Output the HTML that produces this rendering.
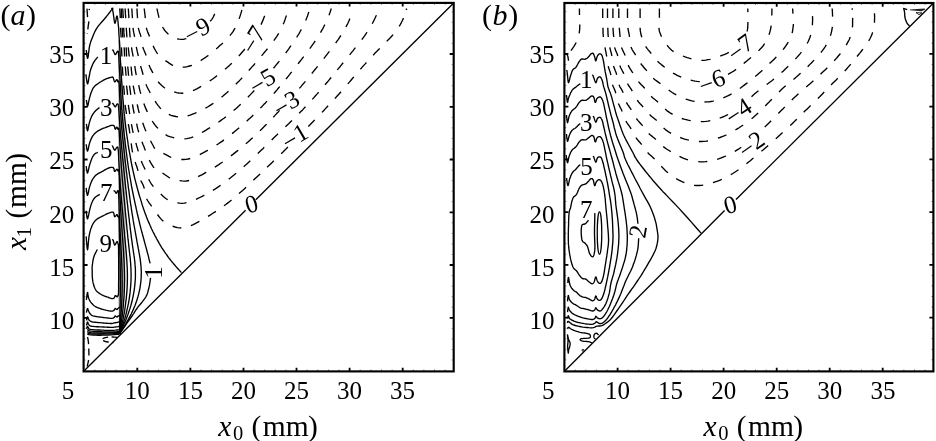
<!DOCTYPE html>
<html><head><meta charset="utf-8"><title>contours</title>
<style>html,body{margin:0;padding:0;background:#fff}body{width:936px;height:441px;overflow:hidden;position:relative}</style></head>
<body>
<svg width="936" height="441" viewBox="0 0 936 441" style="position:absolute;left:0;top:0">
<rect width="936" height="441" fill="#fff"/>
<path d="M137.3 371.4v-3.7M137.3 2.9v3.7M190.4 371.4v-3.7M190.4 2.9v3.7M243.5 371.4v-3.7M243.5 2.9v3.7M296.5 371.4v-3.7M296.5 2.9v3.7M349.6 371.4v-3.7M349.6 2.9v3.7M402.7 371.4v-3.7M402.7 2.9v3.7M83.6 317.8h4.0M453.7 317.8h-4.0M83.6 265.0h4.0M453.7 265.0h-4.0M83.6 212.3h4.0M453.7 212.3h-4.0M83.6 159.5h4.0M453.7 159.5h-4.0M83.6 106.8h4.0M453.7 106.8h-4.0M83.6 54.0h4.0M453.7 54.0h-4.0" stroke="#000" stroke-width="1.8" fill="none"/>
<path d="M94.8 371.4v-2.0M94.8 2.9v2.0M105.5 371.4v-2.0M105.5 2.9v2.0M116.1 371.4v-2.0M116.1 2.9v2.0M126.7 371.4v-2.0M126.7 2.9v2.0M147.9 371.4v-2.0M147.9 2.9v2.0M158.5 371.4v-2.0M158.5 2.9v2.0M169.1 371.4v-2.0M169.1 2.9v2.0M179.8 371.4v-2.0M179.8 2.9v2.0M201.0 371.4v-2.0M201.0 2.9v2.0M211.6 371.4v-2.0M211.6 2.9v2.0M222.2 371.4v-2.0M222.2 2.9v2.0M232.8 371.4v-2.0M232.8 2.9v2.0M254.1 371.4v-2.0M254.1 2.9v2.0M264.7 371.4v-2.0M264.7 2.9v2.0M275.3 371.4v-2.0M275.3 2.9v2.0M285.9 371.4v-2.0M285.9 2.9v2.0M307.2 371.4v-2.0M307.2 2.9v2.0M317.8 371.4v-2.0M317.8 2.9v2.0M328.4 371.4v-2.0M328.4 2.9v2.0M339.0 371.4v-2.0M339.0 2.9v2.0M360.2 371.4v-2.0M360.2 2.9v2.0M370.9 371.4v-2.0M370.9 2.9v2.0M381.5 371.4v-2.0M381.5 2.9v2.0M392.1 371.4v-2.0M392.1 2.9v2.0M413.3 371.4v-2.0M413.3 2.9v2.0M423.9 371.4v-2.0M423.9 2.9v2.0M434.5 371.4v-2.0M434.5 2.9v2.0M445.2 371.4v-2.0M445.2 2.9v2.0M83.6 360.0h2.0M453.7 360.0h-2.0M83.6 349.5h2.0M453.7 349.5h-2.0M83.6 338.9h2.0M453.7 338.9h-2.0M83.6 328.4h2.0M453.7 328.4h-2.0M83.6 307.2h2.0M453.7 307.2h-2.0M83.6 296.7h2.0M453.7 296.7h-2.0M83.6 286.1h2.0M453.7 286.1h-2.0M83.6 275.6h2.0M453.7 275.6h-2.0M83.6 254.5h2.0M453.7 254.5h-2.0M83.6 243.9h2.0M453.7 243.9h-2.0M83.6 233.4h2.0M453.7 233.4h-2.0M83.6 222.8h2.0M453.7 222.8h-2.0M83.6 201.7h2.0M453.7 201.7h-2.0M83.6 191.2h2.0M453.7 191.2h-2.0M83.6 180.6h2.0M453.7 180.6h-2.0M83.6 170.1h2.0M453.7 170.1h-2.0M83.6 149.0h2.0M453.7 149.0h-2.0M83.6 138.4h2.0M453.7 138.4h-2.0M83.6 127.9h2.0M453.7 127.9h-2.0M83.6 117.3h2.0M453.7 117.3h-2.0M83.6 96.2h2.0M453.7 96.2h-2.0M83.6 85.7h2.0M453.7 85.7h-2.0M83.6 75.1h2.0M453.7 75.1h-2.0M83.6 64.6h2.0M453.7 64.6h-2.0M83.6 43.4h2.0M453.7 43.4h-2.0M83.6 32.9h2.0M453.7 32.9h-2.0M83.6 22.3h2.0M453.7 22.3h-2.0M83.6 11.8h2.0M453.7 11.8h-2.0" stroke="#777" stroke-width="0.8" fill="none"/>
<rect x="83.6" y="2.9" width="370.1" height="368.5" fill="none" stroke="#000" stroke-width="2.15"/>
<path d="M617.6 371.4v-3.7M617.6 3.0v3.7M670.6 371.4v-3.7M670.6 3.0v3.7M723.6 371.4v-3.7M723.6 3.0v3.7M776.7 371.4v-3.7M776.7 3.0v3.7M829.7 371.4v-3.7M829.7 3.0v3.7M882.7 371.4v-3.7M882.7 3.0v3.7M564.4 317.6h4.0M933.4 317.6h-4.0M564.4 264.8h4.0M933.4 264.8h-4.0M564.4 212.1h4.0M933.4 212.1h-4.0M564.4 159.3h4.0M933.4 159.3h-4.0M564.4 106.6h4.0M933.4 106.6h-4.0M564.4 53.8h4.0M933.4 53.8h-4.0" stroke="#000" stroke-width="1.8" fill="none"/>
<path d="M575.2 371.4v-2.0M575.2 3.0v2.0M585.8 371.4v-2.0M585.8 3.0v2.0M596.4 371.4v-2.0M596.4 3.0v2.0M607.0 371.4v-2.0M607.0 3.0v2.0M628.2 371.4v-2.0M628.2 3.0v2.0M638.8 371.4v-2.0M638.8 3.0v2.0M649.4 371.4v-2.0M649.4 3.0v2.0M660.0 371.4v-2.0M660.0 3.0v2.0M681.2 371.4v-2.0M681.2 3.0v2.0M691.8 371.4v-2.0M691.8 3.0v2.0M702.4 371.4v-2.0M702.4 3.0v2.0M713.0 371.4v-2.0M713.0 3.0v2.0M734.2 371.4v-2.0M734.2 3.0v2.0M744.8 371.4v-2.0M744.8 3.0v2.0M755.5 371.4v-2.0M755.5 3.0v2.0M766.1 371.4v-2.0M766.1 3.0v2.0M787.3 371.4v-2.0M787.3 3.0v2.0M797.9 371.4v-2.0M797.9 3.0v2.0M808.5 371.4v-2.0M808.5 3.0v2.0M819.1 371.4v-2.0M819.1 3.0v2.0M840.3 371.4v-2.0M840.3 3.0v2.0M850.9 371.4v-2.0M850.9 3.0v2.0M861.5 371.4v-2.0M861.5 3.0v2.0M872.1 371.4v-2.0M872.1 3.0v2.0M893.3 371.4v-2.0M893.3 3.0v2.0M903.9 371.4v-2.0M903.9 3.0v2.0M914.5 371.4v-2.0M914.5 3.0v2.0M925.1 371.4v-2.0M925.1 3.0v2.0M564.4 359.8h2.0M933.4 359.8h-2.0M564.4 349.3h2.0M933.4 349.3h-2.0M564.4 338.7h2.0M933.4 338.7h-2.0M564.4 328.2h2.0M933.4 328.2h-2.0M564.4 307.0h2.0M933.4 307.0h-2.0M564.4 296.5h2.0M933.4 296.5h-2.0M564.4 285.9h2.0M933.4 285.9h-2.0M564.4 275.4h2.0M933.4 275.4h-2.0M564.4 254.3h2.0M933.4 254.3h-2.0M564.4 243.7h2.0M933.4 243.7h-2.0M564.4 233.2h2.0M933.4 233.2h-2.0M564.4 222.6h2.0M933.4 222.6h-2.0M564.4 201.5h2.0M933.4 201.5h-2.0M564.4 191.0h2.0M933.4 191.0h-2.0M564.4 180.4h2.0M933.4 180.4h-2.0M564.4 169.9h2.0M933.4 169.9h-2.0M564.4 148.8h2.0M933.4 148.8h-2.0M564.4 138.2h2.0M933.4 138.2h-2.0M564.4 127.7h2.0M933.4 127.7h-2.0M564.4 117.1h2.0M933.4 117.1h-2.0M564.4 96.0h2.0M933.4 96.0h-2.0M564.4 85.5h2.0M933.4 85.5h-2.0M564.4 74.9h2.0M933.4 74.9h-2.0M564.4 64.4h2.0M933.4 64.4h-2.0M564.4 43.2h2.0M933.4 43.2h-2.0M564.4 32.7h2.0M933.4 32.7h-2.0M564.4 22.1h2.0M933.4 22.1h-2.0M564.4 11.6h2.0M933.4 11.6h-2.0" stroke="#777" stroke-width="0.8" fill="none"/>
<rect x="564.4" y="3.0" width="369.0" height="368.4" fill="none" stroke="#000" stroke-width="2.15"/>
<path d="M86.2 50.0L86.4 51.1L86.6 52.9L86.8 54.9L87.1 56.8L87.4 58.0L87.7 58.3L88.0 57.4L88.3 55.6L88.5 53.3L88.9 50.7L89.2 48.1L89.6 46.0L90.0 44.2L90.5 42.6L91.0 41.0L91.6 39.4L92.2 37.9L92.8 36.4L93.4 34.9L94.0 33.5L94.7 32.0L95.4 30.6L96.2 29.1L97.2 27.6L98.4 25.9L99.9 24.1L101.5 22.3L103.1 20.5L104.6 18.8L105.9 17.2L107.1 15.7L108.2 14.3L109.2 13.0L110.1 11.8L110.9 10.7L111.5 9.9L111.9 9.3L112.1 8.8L112.2 8.5L112.2 8.4L112.2 8.4L112.3 8.6L112.4 8.9L112.6 9.4L112.7 10.0L112.8 10.8L113.0 11.8L113.2 12.9L113.4 14.5L113.7 16.6L114.0 18.8L114.3 20.9L114.6 22.5L114.9 23.3L115.2 22.9L115.6 21.5L116.0 19.7L116.3 17.8L116.7 16.4L117.0 16.0L117.3 16.6L117.5 17.9L117.8 19.7L118.0 21.8L118.2 23.9L118.4 25.9L118.6 27.7L118.7 29.4L118.8 31.1L118.9 33.1L119.0 35.3L119.2 38.0L119.4 41.2L119.6 44.9L119.8 48.8L120.0 52.9L120.2 57.0L120.4 61.0L120.7 64.9L120.9 68.8L121.1 72.6L121.4 76.5L121.6 80.3L121.9 84.1L122.1 87.7L122.4 91.4L122.7 95.0L122.9 98.5L123.2 101.9L123.5 105.2L123.8 108.3L124.0 111.3L124.3 114.2L124.6 117.0L124.9 119.7L125.2 122.3L125.5 124.9L125.8 127.3L126.1 129.7L126.4 132.0L126.7 134.3L127.1 136.8L127.4 139.2L127.8 141.7L128.1 144.2L128.5 146.7L128.9 149.3L129.4 151.9L129.9 154.7L130.4 157.4L130.9 160.3L131.4 163.1L132.0 166.0L132.6 168.8L133.2 171.6L133.9 174.5L134.5 177.3L135.2 180.1L135.9 182.8L136.6 185.5L137.3 188.1L138.0 190.7L138.7 193.2L139.4 195.7L140.2 198.1L140.9 200.4L141.6 202.6L142.2 204.8L142.9 206.9L143.6 209.0L144.3 211.0L145.0 212.9L145.7 214.8L146.4 216.7L147.1 218.4L147.8 220.2L148.5 221.9L149.3 223.6L150.0 225.3L150.8 227.0L151.5 228.7L152.3 230.3L153.1 232.0L154.0 233.6L154.8 235.3L155.7 236.9L156.5 238.5L157.4 240.1L158.3 241.7L159.2 243.3L160.1 244.8L161.0 246.3L161.9 247.8L162.9 249.3L163.8 250.7L164.7 252.1L165.6 253.4L166.6 254.7L167.5 256.0L168.4 257.3L169.3 258.5L170.3 259.7L171.2 260.9L172.1 262.0L173.1 263.1L174.0 264.2L174.9 265.3L175.8 266.4L176.8 267.5L177.9 268.7L179.0 269.9L180.0 271.0L180.8 271.9L181.4 272.6" fill="none" stroke="#000" stroke-width="1.35" stroke-linejoin="round" stroke-linecap="butt"/>
<path d="M86.4 100.0L86.5 100.8L86.7 102.1L86.9 103.5L87.1 104.9L87.3 105.9L87.5 106.3L87.7 106.0L88.0 105.1L88.2 104.0L88.5 102.6L88.8 101.2L89.1 99.9L89.4 98.7L89.7 97.4L90.1 96.1L90.4 94.8L90.8 93.5L91.2 92.4L91.6 91.4L92.0 90.4L92.4 89.6L92.8 88.7L93.3 87.9L93.9 87.1L94.6 86.3L95.4 85.6L96.3 84.8L97.3 84.2L98.2 83.5L99.2 82.8L100.2 82.1L101.3 81.5L102.4 80.8L103.5 80.2L104.6 79.6L105.6 79.1L106.6 78.7L107.6 78.3L108.6 78.0L109.5 77.7L110.3 77.5L111.0 77.3L111.5 77.2L112.0 77.1L112.3 77.0L112.6 77.1L112.8 77.2L113.1 77.5L113.4 78.1L113.6 78.9L113.9 79.8L114.1 80.7L114.4 81.4L114.7 81.8L115.0 81.8L115.4 81.4L115.8 80.8L116.2 80.2L116.6 79.8L116.9 79.6L117.1 79.7L117.3 80.1L117.5 80.5L117.6 81.0L117.7 81.5L117.9 81.8L118.1 81.8L118.3 81.5L118.4 81.1L118.6 81.0L118.8 81.5L119.0 82.8L119.2 85.3L119.4 88.6L119.5 92.6L119.7 96.8L119.9 100.9L120.1 104.5L120.3 107.7L120.5 110.8L120.7 113.8L120.9 116.7L121.1 119.5L121.3 122.2L121.5 124.8L121.7 127.2L121.9 129.6L122.2 132.0L122.4 134.3L122.6 136.8L122.9 139.2L123.1 141.7L123.4 144.2L123.7 146.7L123.9 149.3L124.2 151.9L124.5 154.7L124.8 157.5L125.1 160.3L125.5 163.2L125.8 166.0L126.1 168.8L126.4 171.6L126.8 174.4L127.1 177.2L127.4 179.9L127.8 182.6L128.1 185.2L128.4 187.8L128.8 190.2L129.1 192.6L129.4 194.9L129.7 197.2L130.0 199.5L130.3 201.7L130.6 203.9L131.0 206.0L131.3 208.2L131.6 210.3L131.9 212.5L132.3 214.7L132.7 217.0L133.0 219.2L133.4 221.5L133.8 223.8L134.2 226.0L134.6 228.2L135.0 230.5L135.4 232.7L135.8 234.9L136.2 237.1L136.6 239.2L136.9 241.2L137.3 243.1L137.6 245.0L138.0 246.9L138.3 248.7L138.7 250.5L139.0 252.3L139.3 254.0L139.6 255.7L139.9 257.4L140.2 259.1L140.4 260.9L140.6 262.6L140.8 264.4L141.0 266.2L141.1 268.0L141.2 269.8L141.3 271.7L141.3 273.6L141.2 275.5L141.2 277.5L141.0 279.5L140.9 281.5L140.6 283.6L140.3 285.7L140.0 287.8L139.6 290.0L139.1 292.2L138.6 294.4L138.0 296.5L137.3 298.7L136.6 301.0L135.8 303.2L135.0 305.4L134.1 307.6L133.2 309.7L132.2 311.9L131.2 314.0L130.1 316.1L129.0 318.1L127.9 320.2L126.7 322.2L125.5 324.3L124.1 326.5L122.7 328.8L121.4 330.8L120.3 332.5L119.5 333.8" fill="none" stroke="#000" stroke-width="1.35" stroke-linejoin="round" stroke-linecap="butt"/>
<path d="M86.2 144.2L86.3 145.1L86.5 146.5L86.7 148.1L87.0 149.6L87.2 150.7L87.5 151.1L87.8 150.6L88.1 149.5L88.5 147.9L88.8 146.2L89.2 144.5L89.6 143.1L90.0 141.9L90.4 140.8L90.8 139.7L91.3 138.6L91.8 137.6L92.3 136.7L92.8 135.8L93.4 135.1L94.0 134.3L94.6 133.7L95.3 133.0L96.0 132.4L96.8 131.8L97.6 131.2L98.5 130.7L99.5 130.2L100.4 129.7L101.4 129.2L102.4 128.7L103.5 128.2L104.7 127.8L105.8 127.3L106.8 127.0L107.8 126.6L108.7 126.3L109.5 126.0L110.2 125.7L110.9 125.5L111.5 125.4L112.1 125.3L112.6 125.3L113.0 125.3L113.3 125.4L113.7 125.5L113.9 125.7L114.2 126.0L114.4 126.5L114.6 127.1L114.8 127.8L114.9 128.4L115.1 128.9L115.3 129.2L115.5 129.1L115.8 128.7L116.1 128.2L116.4 127.7L116.7 127.3L116.9 127.1L117.1 127.2L117.3 127.5L117.4 128.0L117.6 128.5L117.7 128.9L117.9 129.2L118.1 129.2L118.3 128.8L118.4 128.4L118.6 128.2L118.8 128.6L119.0 129.8L119.2 132.0L119.4 135.1L119.6 138.6L119.8 142.5L120.0 146.3L120.2 149.9L120.4 153.3L120.6 156.6L120.9 160.0L121.1 163.3L121.3 166.7L121.6 170.0L121.9 173.3L122.1 176.6L122.4 180.0L122.7 183.2L123.0 186.5L123.3 189.8L123.6 193.0L123.9 196.1L124.2 199.3L124.5 202.4L124.8 205.5L125.1 208.5L125.3 211.4L125.6 214.3L125.9 217.2L126.2 220.0L126.4 222.6L126.7 225.2L126.9 227.8L127.1 230.2L127.4 232.5L127.6 234.8L127.8 237.0L128.0 239.2L128.3 241.2L128.5 243.2L128.7 245.1L128.9 246.9L129.1 248.7L129.3 250.5L129.5 252.3L129.7 254.0L129.9 255.7L130.1 257.4L130.3 259.1L130.4 260.9L130.6 262.6L130.7 264.4L130.8 266.2L130.9 268.0L131.0 269.8L131.0 271.7L131.1 273.6L131.1 275.5L131.1 277.5L131.0 279.5L131.0 281.5L130.8 283.6L130.7 285.7L130.5 287.9L130.3 290.1L130.1 292.4L129.8 294.6L129.5 296.9L129.2 299.1L128.8 301.4L128.4 303.7L127.9 305.9L127.4 308.2L126.9 310.4L126.4 312.5L125.9 314.6L125.3 316.7L124.7 318.8L124.0 320.8L123.4 322.7L122.7 324.8L122.0 326.9L121.2 329.0L120.5 331.0L119.9 332.6L119.5 333.8" fill="none" stroke="#000" stroke-width="1.35" stroke-linejoin="round" stroke-linecap="butt"/>
<path d="M86.2 187.9L86.3 188.9L86.5 190.4L86.7 192.2L87.0 193.8L87.2 195.0L87.5 195.4L87.8 194.9L88.1 193.7L88.5 192.1L88.8 190.2L89.2 188.4L89.6 186.9L90.0 185.6L90.4 184.4L90.8 183.2L91.3 182.0L91.8 180.9L92.3 179.9L92.8 179.0L93.4 178.1L94.0 177.3L94.6 176.5L95.3 175.8L96.0 175.1L96.8 174.5L97.7 173.9L98.6 173.4L99.5 172.9L100.5 172.4L101.4 171.9L102.4 171.3L103.4 170.8L104.4 170.2L105.4 169.6L106.3 169.1L107.2 168.7L108.0 168.3L108.8 168.0L109.6 167.7L110.3 167.5L110.9 167.4L111.5 167.3L112.0 167.3L112.4 167.3L112.8 167.5L113.1 167.6L113.4 167.9L113.7 168.2L113.9 168.7L114.1 169.3L114.2 170.0L114.3 170.6L114.5 171.2L114.7 171.4L115.0 171.3L115.4 170.9L115.8 170.4L116.2 169.9L116.6 169.4L116.9 169.2L117.1 169.3L117.3 169.5L117.5 169.8L117.6 170.2L117.7 170.5L117.9 170.8L118.1 170.7L118.3 170.4L118.5 170.0L118.7 169.9L118.8 170.2L119.0 171.4L119.1 173.5L119.3 176.4L119.4 179.8L119.5 183.4L119.6 187.1L119.7 190.5L119.9 193.8L120.0 197.0L120.2 200.3L120.4 203.5L120.5 206.8L120.7 210.1L120.9 213.4L121.1 216.7L121.3 220.0L121.6 223.2L121.8 226.5L122.0 229.7L122.2 232.8L122.4 236.0L122.7 239.1L122.9 242.2L123.1 245.2L123.3 248.1L123.5 251.0L123.6 253.9L123.8 256.6L124.0 259.4L124.1 262.1L124.2 264.8L124.3 267.5L124.4 270.1L124.5 272.8L124.5 275.4L124.6 278.0L124.6 280.6L124.5 283.2L124.5 285.8L124.4 288.3L124.3 290.9L124.2 293.4L124.1 295.9L123.9 298.4L123.7 300.9L123.5 303.3L123.3 305.6L123.1 308.0L122.9 310.2L122.6 312.4L122.3 314.6L122.1 316.7L121.8 318.7L121.5 320.8L121.2 322.7L120.9 324.8L120.6 326.9L120.3 329.1L120.0 331.0L119.7 332.6L119.5 333.8" fill="none" stroke="#000" stroke-width="1.35" stroke-linejoin="round" stroke-linecap="butt"/>
<path d="M86.2 236.4L86.3 238.2L86.5 240.9L86.8 244.0L87.0 246.9L87.3 249.0L87.5 249.8L87.7 249.0L88.0 247.0L88.2 244.3L88.5 241.2L88.8 238.3L89.1 235.9L89.5 234.0L89.9 232.3L90.3 230.6L90.7 229.1L91.3 227.7L91.8 226.3L92.4 225.0L93.0 223.8L93.7 222.7L94.5 221.7L95.2 220.7L96.0 219.9L96.8 219.2L97.7 218.6L98.6 218.1L99.5 217.6L100.4 217.2L101.4 216.7L102.4 216.1L103.5 215.6L104.7 215.0L105.8 214.4L106.8 213.9L107.8 213.5L108.7 213.1L109.5 212.8L110.2 212.5L110.9 212.3L111.6 212.2L112.1 212.1L112.5 212.1L112.9 212.1L113.1 212.2L113.3 212.4L113.5 212.7L113.7 213.0L113.9 213.5L114.0 214.2L114.2 215.0L114.3 215.8L114.5 216.4L114.7 216.7L115.0 216.6L115.4 216.3L115.8 215.8L116.2 215.2L116.6 214.8L116.9 214.6L117.1 214.7L117.3 215.0L117.5 215.5L117.6 215.9L117.7 216.4L117.9 216.7L118.1 216.7L118.3 216.5L118.5 216.3L118.7 216.2L118.9 216.6L119.0 217.5L119.1 219.2L119.2 221.4L119.2 224.0L119.3 226.9L119.3 229.8L119.4 232.5L119.4 235.1L119.5 237.8L119.6 240.5L119.7 243.2L119.7 245.9L119.8 248.6L119.9 251.3L119.9 254.0L120.0 256.7L120.1 259.4L120.1 262.1L120.2 264.8L120.2 267.5L120.3 270.1L120.3 272.7L120.3 275.4L120.3 278.0L120.4 280.6L120.4 283.2L120.4 285.8L120.3 288.3L120.3 290.9L120.3 293.4L120.3 295.9L120.2 298.4L120.2 300.9L120.2 303.3L120.1 305.6L120.1 308.0L120.0 310.2L120.0 312.4L119.9 314.6L119.9 316.7L119.8 318.7L119.8 320.8L119.7 322.7L119.7 324.8L119.7 326.9L119.6 329.1L119.6 331.0L119.5 332.6L119.5 333.8" fill="none" stroke="#000" stroke-width="1.35" stroke-linejoin="round" stroke-linecap="butt"/>
<path d="M85.9 74.3L86.1 75.5L86.3 77.4L86.6 79.5L86.9 81.6L87.2 83.1L87.5 83.9L87.8 83.7L88.0 82.8L88.3 81.5L88.6 80.0L88.8 78.4L89.1 77.0L89.3 75.8L89.6 74.5L89.8 73.3L90.0 72.0L90.3 70.8L90.7 69.5L91.1 68.2L91.6 66.9L92.2 65.6L92.7 64.3L93.3 63.1L93.9 62.0L94.6 61.0L95.3 59.9L96.1 59.0L96.8 58.1L97.4 57.4L97.8 56.9" fill="none" stroke="#000" stroke-width="1.35" stroke-linejoin="round" stroke-linecap="butt"/>
<path d="M112.2 50.4L112.3 50.3L112.4 50.2L112.5 50.1L112.7 50.0L112.9 50.1L113.1 50.3L113.4 50.8L113.7 51.7L114.1 52.6L114.5 53.6L114.9 54.3L115.3 54.6L115.7 54.4L116.0 53.9L116.4 53.2L116.8 52.4L117.1 51.7L117.4 51.4L117.6 51.2L117.9 51.1L118.0 51.1L118.2 51.4L118.3 52.0L118.5 53.0L118.6 54.5L118.8 56.5L118.9 58.8L119.0 61.3L119.1 63.9L119.3 66.6L119.4 69.4L119.6 72.3L119.8 75.4L119.9 78.6L120.1 81.8L120.3 85.0L120.5 88.3L120.7 91.7L120.9 95.2L121.1 98.6L121.3 102.0L121.5 105.2L121.7 108.2L122.0 111.2L122.2 114.1L122.4 116.9L122.7 119.6L122.9 122.3L123.2 124.9L123.4 127.3L123.7 129.7L123.9 132.0L124.2 134.3L124.5 136.8L124.8 139.2L125.1 141.7L125.3 144.2L125.7 146.7L126.0 149.3L126.3 151.9L126.7 154.7L127.0 157.4L127.4 160.3L127.8 163.1L128.2 166.0L128.6 168.8L129.1 171.6L129.5 174.4L130.0 177.3L130.5 180.0L131.0 182.8L131.4 185.4L131.9 188.0L132.4 190.6L132.9 193.0L133.4 195.5L133.9 197.9L134.4 200.2L134.9 202.6L135.4 204.8L135.9 207.0L136.3 209.2L136.8 211.4L137.3 213.6L137.8 215.8L138.4 218.0L138.9 220.2L139.4 222.4L139.9 224.6L140.5 226.8L141.0 228.9L141.6 231.1L142.2 233.2L142.7 235.3L143.3 237.4L143.9 239.5L144.4 241.6L145.0 243.6L145.5 245.6L146.1 247.6L146.6 249.5L147.1 251.5L147.7 253.6L148.3 255.9L148.8 258.2L149.3 260.3L149.8 262.1L150.1 263.4" fill="none" stroke="#000" stroke-width="1.35" stroke-linejoin="round" stroke-linecap="butt"/>
<path d="M150.6 277.8L150.4 278.8L150.2 280.3L150.0 282.0L149.7 283.8L149.4 285.7L149.0 287.4L148.6 289.0L148.2 290.6L147.8 292.2L147.3 293.7L146.6 295.4L145.8 297.0L144.7 298.7L143.4 300.4L142.0 302.2L140.5 304.0L139.0 305.7L137.7 307.4L136.6 309.0L135.6 310.4L134.7 311.8L133.8 313.3L132.7 315.0L131.3 317.0L129.5 319.6L127.3 322.7L125.0 326.0L122.8 329.2L120.8 331.9L119.5 333.8" fill="none" stroke="#000" stroke-width="1.35" stroke-linejoin="round" stroke-linecap="butt"/>
<path d="M86.4 123.9L86.5 124.8L86.7 126.2L86.9 127.8L87.1 129.3L87.3 130.4L87.5 130.8L87.7 130.5L88.0 129.5L88.2 128.2L88.5 126.7L88.8 125.2L89.1 123.9L89.4 122.7L89.8 121.4L90.2 120.1L90.6 118.8L91.1 117.7L91.5 116.6L92.0 115.7L92.5 114.8L93.0 114.0L93.5 113.3L94.0 112.6L94.5 112.0L95.0 111.4L95.6 110.8L96.1 110.3L96.7 109.8L97.2 109.4L97.6 109.0L98.0 108.7L98.4 108.4L98.7 108.1L99.1 107.9L99.3 107.7L99.5 107.6" fill="none" stroke="#000" stroke-width="1.35" stroke-linejoin="round" stroke-linecap="butt"/>
<path d="M112.4 103.7L112.5 103.7L112.5 103.6L112.6 103.5L112.7 103.5L112.9 103.5L113.1 103.7L113.4 104.1L113.7 104.7L114.1 105.5L114.6 106.2L115.0 106.7L115.3 106.9L115.6 106.7L115.9 106.3L116.1 105.6L116.4 105.0L116.6 104.4L116.9 104.2L117.2 104.1L117.4 104.0L117.7 104.0L118.0 104.3L118.3 105.0L118.5 106.3L118.7 108.3L118.9 111.0L119.1 114.1L119.3 117.4L119.5 120.6L119.7 123.6L119.9 126.4L120.1 129.1L120.3 131.8L120.5 134.5L120.7 137.1L121.0 139.8L121.2 142.4L121.4 144.9L121.7 147.5L121.9 150.0L122.2 152.5L122.4 155.1L122.6 157.6L122.9 160.2L123.2 162.7L123.4 165.3L123.7 167.8L123.9 170.4L124.2 172.9L124.4 175.5L124.7 178.1L125.0 180.6L125.2 183.1L125.5 185.6L125.7 188.0L126.0 190.3L126.2 192.7L126.5 195.0L126.7 197.2L126.9 199.5L127.2 201.7L127.4 203.9L127.7 206.0L127.9 208.2L128.1 210.3L128.4 212.5L128.6 214.7L128.9 217.0L129.2 219.2L129.4 221.5L129.7 223.8L130.0 226.0L130.2 228.2L130.5 230.5L130.8 232.7L131.1 234.9L131.3 237.1L131.6 239.2L131.9 241.2L132.2 243.1L132.4 245.0L132.7 246.9L133.0 248.7L133.2 250.5L133.5 252.3L133.8 254.0L134.0 255.7L134.3 257.4L134.5 259.1L134.7 260.9L134.9 262.6L135.0 264.4L135.2 266.2L135.3 268.0L135.4 269.8L135.4 271.7L135.4 273.6L135.4 275.5L135.4 277.5L135.3 279.5L135.1 281.5L135.0 283.6L134.7 285.7L134.5 287.9L134.2 290.1L133.8 292.4L133.4 294.6L133.0 296.8L132.5 299.0L132.0 301.3L131.4 303.5L130.8 305.7L130.1 308.0L129.4 310.1L128.7 312.2L128.0 314.3L127.2 316.4L126.4 318.4L125.6 320.4L124.8 322.4L123.8 324.5L122.8 326.7L121.8 328.9L120.9 330.9L120.1 332.6L119.5 333.8" fill="none" stroke="#000" stroke-width="1.35" stroke-linejoin="round" stroke-linecap="butt"/>
<path d="M86.2 166.0L86.3 166.9L86.5 168.4L86.7 170.0L87.0 171.5L87.2 172.6L87.5 173.0L87.8 172.5L88.1 171.4L88.5 169.9L88.8 168.2L89.2 166.5L89.6 165.0L90.0 163.7L90.5 162.3L90.9 161.0L91.4 159.7L91.8 158.5L92.3 157.5L92.7 156.6L93.2 155.9L93.6 155.3L94.1 154.7L94.5 154.2L95.0 153.8L95.5 153.4L96.0 153.1L96.6 152.9L97.1 152.7L97.5 152.5L97.8 152.4" fill="none" stroke="#000" stroke-width="1.35" stroke-linejoin="round" stroke-linecap="butt"/>
<path d="M112.0 146.2L112.0 146.2L112.1 146.1L112.2 146.0L112.3 146.0L112.4 146.1L112.6 146.3L112.9 146.8L113.2 147.5L113.5 148.4L113.9 149.2L114.3 149.8L114.7 150.1L115.1 150.0L115.5 149.5L115.9 148.9L116.2 148.2L116.6 147.6L116.9 147.4L117.2 147.3L117.4 147.1L117.6 147.0L117.8 147.3L118.0 148.0L118.2 149.5L118.4 151.8L118.6 154.9L118.7 158.5L118.9 162.4L119.1 166.2L119.3 169.8L119.5 173.2L119.7 176.5L120.0 179.9L120.2 183.3L120.4 186.6L120.7 190.0L121.0 193.3L121.2 196.7L121.5 200.0L121.8 203.4L122.1 206.7L122.4 210.0L122.7 213.3L123.0 216.6L123.2 219.9L123.5 223.1L123.8 226.3L124.1 229.4L124.4 232.4L124.6 235.4L124.9 238.3L125.2 241.2L125.4 243.9L125.7 246.5L125.9 249.0L126.1 251.4L126.3 253.7L126.5 255.9L126.6 258.0L126.8 260.1L126.9 262.2L127.0 264.1L127.1 266.0L127.2 267.9L127.3 269.7L127.3 271.7L127.4 273.6L127.4 275.6L127.4 277.5L127.4 279.5L127.3 281.5L127.3 283.6L127.2 285.7L127.1 287.9L127.0 290.1L126.8 292.4L126.6 294.6L126.4 296.9L126.2 299.1L125.9 301.4L125.6 303.7L125.3 305.9L125.0 308.2L124.7 310.4L124.3 312.5L123.9 314.6L123.5 316.7L123.1 318.8L122.7 320.8L122.2 322.7L121.8 324.8L121.2 326.9L120.7 329.0L120.2 331.0L119.8 332.6L119.5 333.8" fill="none" stroke="#000" stroke-width="1.35" stroke-linejoin="round" stroke-linecap="butt"/>
<path d="M86.2 210.8L86.3 211.9L86.5 213.5L86.7 215.3L87.0 217.1L87.2 218.3L87.5 218.8L87.8 218.3L88.1 217.2L88.5 215.5L88.9 213.7L89.2 211.8L89.6 210.3L89.9 209.0L90.3 207.6L90.6 206.4L91.0 205.1L91.4 203.9L91.8 202.8L92.3 201.8L92.7 200.8L93.2 199.9L93.8 199.0L94.4 198.2L95.0 197.5L95.8 196.8L96.7 196.2L97.6 195.6L98.5 195.1L99.3 194.6L99.8 194.3" fill="none" stroke="#000" stroke-width="1.35" stroke-linejoin="round" stroke-linecap="butt"/>
<path d="M113.5 190.8L113.6 190.8L113.8 190.8L114.0 190.8L114.2 190.8L114.5 190.9L114.7 191.1L114.9 191.4L115.2 191.9L115.5 192.4L115.8 192.8L116.1 193.2L116.3 193.3L116.5 193.1L116.7 192.8L116.9 192.2L117.1 191.7L117.2 191.3L117.4 191.1L117.6 191.0L117.8 190.7L118.0 190.6L118.2 190.8L118.3 191.4L118.5 192.7L118.6 194.8L118.8 197.5L118.9 200.8L119.0 204.2L119.1 207.7L119.2 211.0L119.3 214.1L119.5 217.3L119.6 220.4L119.8 223.6L119.9 226.7L120.1 229.9L120.2 233.0L120.4 236.0L120.6 239.1L120.7 242.2L120.9 245.2L121.0 248.1L121.2 251.0L121.3 253.8L121.5 256.6L121.6 259.4L121.7 262.1L121.8 264.8L121.9 267.5L122.0 270.1L122.1 272.8L122.1 275.4L122.1 278.0L122.2 280.6L122.2 283.2L122.2 285.8L122.1 288.3L122.1 290.9L122.0 293.4L122.0 295.9L121.9 298.4L121.8 300.9L121.7 303.3L121.5 305.6L121.4 308.0L121.3 310.2L121.1 312.4L121.0 314.6L120.8 316.7L120.7 318.7L120.5 320.8L120.4 322.7L120.2 324.8L120.0 326.9L119.9 329.1L119.7 331.0L119.6 332.6L119.5 333.8" fill="none" stroke="#000" stroke-width="1.35" stroke-linejoin="round" stroke-linecap="butt"/>
<path d="M97.3 249.5L96.9 250.3L96.4 251.3L95.7 252.6L95.0 253.9L94.4 255.3L93.9 256.7L93.5 258.1L93.2 259.5L92.9 261.0L92.7 262.5L92.5 264.0L92.3 265.3L92.2 266.5L92.1 267.7L92.1 268.8L92.2 269.9L92.2 270.9L92.2 272.0L92.2 273.0L92.2 274.1L92.2 275.1L92.3 276.0L92.3 277.0L92.4 278.0L92.5 279.0L92.6 280.0L92.8 280.9L92.9 281.9L93.1 282.9L93.4 283.9L93.7 285.0L94.0 286.1L94.4 287.2L94.9 288.3L95.4 289.3L96.0 290.3L96.7 291.2L97.6 292.0L98.5 292.7L99.4 293.4L100.4 294.0L101.4 294.6L102.4 295.1L103.5 295.6L104.7 296.1L105.8 296.5L106.8 296.9L107.8 297.2L108.7 297.5L109.5 297.8L110.2 298.1L110.9 298.3L111.5 298.5L112.1 298.6L112.6 298.6L113.0 298.5L113.3 298.4L113.7 298.3L113.9 298.0L114.2 297.8L114.4 297.5L114.6 297.0L114.8 296.6L114.9 296.1L115.1 295.8L115.3 295.6L115.5 295.6L115.8 295.8L116.1 296.1L116.4 296.4L116.7 296.6L116.9 296.7L117.1 296.7L117.3 296.7L117.5 296.6L117.6 296.4L117.8 296.1L117.9 295.6L118.0 295.3L118.2 295.3L118.3 295.2L118.4 294.6L118.5 293.0L118.6 290.0L118.6 284.9L118.7 278.0L118.7 270.1L118.7 262.1L118.6 255.1L118.6 250.0L118.5 246.9L118.4 245.1L118.3 244.3L118.2 244.0L118.0 243.8L117.9 243.4L117.8 242.8L117.6 242.3L117.5 242.0L117.3 241.8L117.1 241.7L116.9 241.8L116.6 242.1L116.2 242.8L115.8 243.6L115.4 244.4L115.0 244.9L114.7 245.0L114.4 244.6L114.1 243.8L113.8 242.8L113.6 241.7L113.3 240.7L113.1 240.1L112.9 239.8L112.7 239.7L112.6 239.7L112.5 239.8L112.4 240.0L112.3 240.0" fill="none" stroke="#000" stroke-width="1.35" stroke-linejoin="round" stroke-linecap="butt"/>
<path d="M86.4 299.9L86.5 298.9L86.7 297.5L86.9 295.8L87.1 294.2L87.3 293.0L87.5 292.4L87.7 292.6L87.8 293.3L87.9 294.4L88.1 295.6L88.3 296.8L88.5 297.8L88.8 298.6L89.1 299.3L89.4 300.0L89.8 300.7L90.2 301.4L90.7 302.1L91.3 302.8L91.9 303.6L92.6 304.3L93.3 305.0L94.1 305.7L95.0 306.3L95.9 306.8L97.0 307.4L98.1 307.8L99.2 308.2L100.3 308.6L101.4 309.0L102.5 309.3L103.6 309.7L104.7 309.9L105.8 310.2L106.9 310.4L107.8 310.6L108.7 310.8L109.5 310.9L110.2 311.0L110.9 311.1L111.5 311.1L112.1 311.1L112.6 311.0L113.0 310.9L113.3 310.7L113.7 310.5L113.9 310.3L114.2 310.1L114.4 309.8L114.6 309.5L114.8 309.2L114.9 308.9L115.1 308.6L115.3 308.5L115.5 308.5L115.8 308.7L116.1 309.0L116.4 309.2L116.7 309.4L116.9 309.5L117.1 309.5L117.2 309.3L117.4 309.2L117.5 308.9L117.7 308.7L117.9 308.5L118.2 308.3L118.6 308.0L119.0 307.7L119.4 307.4L119.8 307.2L120.0 307.0" fill="none" stroke="#000" stroke-width="1.35" stroke-linejoin="round" stroke-linecap="butt"/>
<path d="M86.4 312.7L86.5 312.2L86.7 311.3L86.9 310.4L87.1 309.5L87.3 308.8L87.5 308.5L87.7 308.7L88.0 309.2L88.2 309.9L88.5 310.7L88.8 311.5L89.1 312.2L89.5 312.8L89.9 313.4L90.3 314.0L90.7 314.5L91.3 315.0L91.8 315.4L92.4 315.7L93.0 315.9L93.7 316.1L94.5 316.2L95.2 316.4L96.0 316.5L96.8 316.6L97.7 316.8L98.6 316.9L99.5 317.0L100.4 317.1L101.4 317.2L102.4 317.3L103.5 317.5L104.7 317.6L105.8 317.8L106.8 317.9L107.8 318.0L108.7 318.1L109.5 318.2L110.2 318.3L110.9 318.3L111.5 318.3L112.1 318.3L112.6 318.2L113.0 318.1L113.3 318.0L113.7 317.8L113.9 317.6L114.2 317.4L114.4 317.2L114.6 316.9L114.8 316.6L114.9 316.3L115.1 316.1L115.3 316.0L115.5 316.0L115.8 316.2L116.1 316.5L116.4 316.7L116.7 316.9L116.9 317.0L117.1 317.0L117.2 316.9L117.3 316.7L117.5 316.6L117.6 316.4L117.9 316.2L118.3 316.0L118.8 315.8L119.4 315.5L119.9 315.3L120.4 315.1L120.7 315.0" fill="none" stroke="#000" stroke-width="1.35" stroke-linejoin="round" stroke-linecap="butt"/>
<path d="M86.6 320.5L86.7 320.0L86.8 319.3L87.0 318.5L87.1 317.7L87.3 317.1L87.5 316.8L87.7 317.0L87.9 317.4L88.1 318.1L88.4 318.8L88.7 319.5L89.0 320.0L89.4 320.4L89.9 320.8L90.3 321.1L90.9 321.3L91.4 321.6L92.0 321.8L92.6 322.0L93.2 322.1L93.9 322.1L94.5 322.2L95.2 322.2L96.0 322.3L96.8 322.4L97.7 322.5L98.5 322.6L99.5 322.6L100.4 322.7L101.4 322.8L102.4 322.9L103.5 323.0L104.7 323.1L105.8 323.2L106.8 323.2L107.8 323.3L108.7 323.4L109.5 323.4L110.2 323.5L110.9 323.5L111.5 323.5L112.1 323.5L112.6 323.4L113.0 323.3L113.4 323.2L113.8 323.0L114.1 322.9L114.5 322.8L114.9 322.7L115.2 322.7L115.6 322.7L116.0 322.6L116.4 322.6L116.9 322.5L117.5 322.4L118.3 322.2L119.1 322.0L119.9 321.8L120.5 321.6L121.0 321.5" fill="none" stroke="#000" stroke-width="1.35" stroke-linejoin="round" stroke-linecap="butt"/>
<path d="M86.6 325.5L86.7 325.0L86.8 324.4L87.0 323.6L87.1 322.8L87.3 322.2L87.5 322.0L87.7 322.1L87.9 322.6L88.1 323.2L88.4 323.9L88.7 324.5L89.0 325.0L89.3 325.3L89.7 325.6L90.0 325.8L90.5 326.0L91.1 326.1L92.0 326.3L93.2 326.4L94.6 326.6L96.2 326.7L97.9 326.7L99.7 326.8L101.4 326.9L103.2 327.0L105.1 327.1L107.0 327.2L108.8 327.2L110.5 327.3L112.0 327.3L113.2 327.3L114.1 327.2L114.9 327.1L115.6 327.0L116.3 326.9L117.0 326.8L117.8 326.7L118.6 326.5L119.5 326.4L120.2 326.2L120.8 326.1L121.3 326.0" fill="none" stroke="#000" stroke-width="1.35" stroke-linejoin="round" stroke-linecap="butt"/>
<path d="M86.6 329.0L86.7 328.7L86.8 328.1L87.0 327.6L87.1 327.0L87.3 326.6L87.5 326.4L87.7 326.5L87.9 326.9L88.1 327.4L88.4 327.9L88.7 328.4L89.0 328.8L89.3 329.0L89.7 329.2L90.0 329.3L90.5 329.4L91.1 329.5L92.0 329.6L93.2 329.7L94.6 329.8L96.2 329.9L97.9 330.0L99.7 330.0L101.4 330.1L103.1 330.2L104.9 330.3L106.8 330.3L108.6 330.4L110.3 330.4L112.0 330.4L113.6 330.3L115.3 330.2L116.9 330.0L118.4 329.8L119.6 329.7L120.5 329.6" fill="none" stroke="#000" stroke-width="1.35" stroke-linejoin="round" stroke-linecap="butt"/>
<path d="M87.5 329.0L87.7 329.2L87.8 329.6L88.0 330.0L88.4 330.4L89.0 330.7L90.0 331.0L91.4 331.2L93.2 331.3L95.2 331.5L97.3 331.5L99.4 331.6L101.4 331.7L103.2 331.8L105.1 331.9L106.9 331.9L108.7 332.0L110.4 332.0L112.0 332.0L113.6 331.9L115.2 331.8L116.7 331.7L118.0 331.5L119.2 331.4L120.0 331.3" fill="none" stroke="#000" stroke-width="1.35" stroke-linejoin="round" stroke-linecap="butt"/>
<path d="M87.5 331.0L87.7 331.2L87.8 331.4L88.0 331.7L88.4 332.0L89.0 332.3L90.0 332.5L91.3 332.7L92.9 332.8L94.7 332.9L96.8 332.9L99.0 333.0L101.4 333.0L104.3 333.0L107.7 332.9L111.3 332.8L114.7 332.7L117.6 332.7L119.7 332.6" fill="none" stroke="#000" stroke-width="1.35" stroke-linejoin="round" stroke-linecap="butt"/>
<path d="M87.5 332.5L87.7 332.6L87.8 332.8L88.0 333.1L88.4 333.3L89.0 333.5L90.0 333.7L91.3 333.8L92.9 333.9L94.7 334.0L96.8 334.0L99.0 334.0L101.4 334.0L104.2 334.0L107.6 333.9L111.2 333.8L114.6 333.7L117.5 333.6L119.5 333.5" fill="none" stroke="#000" stroke-width="1.35" stroke-linejoin="round" stroke-linecap="butt"/>
<path d="M87.5 333.8L87.7 333.9L87.8 334.1L88.0 334.3L88.4 334.5L89.0 334.7L90.0 334.8L91.3 334.9L92.9 335.0L94.7 335.1L96.8 335.2L99.0 335.2L101.4 335.2L104.2 335.1L107.6 335.0L111.2 334.8L114.6 334.6L117.5 334.4L119.5 334.3" fill="none" stroke="#000" stroke-width="1.35" stroke-linejoin="round" stroke-linecap="butt"/>
<path d="M84.2 370.8L245.6 210.2" fill="none" stroke="#000" stroke-width="1.35" stroke-linejoin="round" stroke-linecap="butt"/>
<path d="M255.8 199.8L452.9 3.7" fill="none" stroke="#000" stroke-width="1.35" stroke-linejoin="round" stroke-linecap="butt"/>
<path d="M406.0 8.6L406.9 9.9" fill="none" stroke="#000" stroke-width="1.35" stroke-linejoin="round" stroke-linecap="butt"/>
<path d="M111.3 8.4L113.4 8.4" fill="none" stroke="#000" stroke-width="1.35" stroke-linejoin="round" stroke-linecap="butt"/>
<path d="M157.0 8.5L157.5 11.2L158.1 13.9L158.8 16.7L159.1 17.7M162.5 27.0L163.8 29.0L165.1 30.9L166.6 32.5L168.2 34.1L168.5 34.3M177.1 38.8L179.1 39.2L181.3 39.4L183.5 39.3L185.8 38.7L186.3 38.5M210.1 21.3L211.7 19.6L213.3 17.0L214.7 13.9" fill="none" stroke="#000" stroke-width="1.35" stroke-linejoin="round" stroke-linecap="butt"/>
<path d="M144.2 8.5L144.5 11.0L144.8 13.4L145.1 16.1L145.3 18.1M146.3 27.8L147.0 30.1L147.8 32.4L148.8 34.6L149.5 36.4M153.1 45.9L154.3 48.4L155.8 51.0L157.3 53.5L157.6 54.0M165.4 60.6L167.4 61.9L169.5 63.4L171.8 64.8L173.1 65.4M182.7 67.2L185.1 67.1L187.3 66.7L189.6 66.0L191.9 65.3M200.7 60.6L202.7 59.3L204.8 57.9L206.8 56.5L208.4 55.4M216.2 48.9L218.1 47.3L219.9 45.6L221.8 44.0L222.9 42.9M229.9 35.6L231.5 33.6L233.0 31.6L234.3 29.4L235.1 28.1M239.1 18.9L239.9 16.6L240.7 14.1L241.5 11.4L241.9 10.0" fill="none" stroke="#000" stroke-width="1.35" stroke-linejoin="round" stroke-linecap="butt"/>
<path d="M136.9 8.5L137.1 11.0L137.2 13.4L137.4 16.1L137.5 18.1M138.3 27.8L138.9 30.1L139.6 32.4L140.4 34.6L141.0 36.9M142.7 46.9L143.6 49.3L144.6 51.7L145.6 54.1L146.1 55.5M149.0 65.1L150.1 67.6L151.4 70.1L152.7 72.6L152.9 73.0M158.1 81.8L159.9 83.8L162.0 85.8L164.1 87.5L165.0 88.1M174.2 91.9L176.6 92.6L179.0 93.0L181.4 93.2L183.3 93.2M193.0 90.7L195.2 89.7L197.3 88.6L199.4 87.4L201.1 86.4M209.7 81.0L211.6 79.7L213.3 78.5L215.0 77.2L216.8 75.9L217.1 75.7M225.0 69.3L226.8 67.8L228.6 66.2L230.4 64.6L231.8 63.2M238.8 56.0L240.4 54.3L241.9 52.5L243.4 50.8L244.8 49.0M261.0 24.6L262.0 22.4L262.9 20.4L263.7 18.3L264.5 16.3L264.7 15.9" fill="none" stroke="#000" stroke-width="1.35" stroke-linejoin="round" stroke-linecap="butt"/>
<path d="M131.8 8.5L132.0 11.0L132.1 13.4L132.3 16.1L132.4 18.1M133.0 27.8L133.3 30.1L133.7 32.4L134.2 34.6L134.6 36.9M136.3 46.9L136.8 49.3L137.3 51.7L137.9 54.1L138.3 56.0M140.6 66.0L141.3 68.4L142.0 70.8L142.7 73.3L143.1 74.7M145.9 84.3L146.9 86.5L148.0 88.7L149.1 90.8L150.2 92.8M155.1 101.1L156.5 103.3L158.2 105.6L159.9 107.7L160.9 108.8M168.8 114.4L171.1 115.3L173.6 116.0L176.0 116.5L178.0 116.8M187.6 115.9L190.1 115.2L192.6 114.2L195.3 113.1L196.5 112.5M205.4 108.2L207.6 107.0L209.8 105.6L211.7 104.4L213.4 103.3M221.5 97.2L223.3 95.8L225.0 94.3L226.8 92.8L228.5 91.2M235.8 84.3L237.5 82.6L239.2 80.9L240.9 79.1L242.2 77.7M248.8 70.5L250.4 68.7L252.0 66.9L253.6 65.2L255.1 63.4M261.6 55.7L263.0 54.1L264.3 52.5L265.9 50.6L267.5 48.7M273.8 40.7L275.4 38.4L276.9 36.3L278.2 34.1L278.8 33.3M283.2 24.3L284.1 22.2L284.9 20.0L285.6 17.9L286.3 15.9L286.5 15.4" fill="none" stroke="#000" stroke-width="1.35" stroke-linejoin="round" stroke-linecap="butt"/>
<path d="M128.3 8.5L128.5 11.0L128.6 13.4L128.8 16.1L128.9 18.1M129.5 27.8L129.6 30.1L129.8 32.4L129.9 34.6L130.1 36.9L130.2 37.4M131.5 47.4L131.9 49.8L132.3 52.2L132.8 54.6L133.1 56.5M134.8 66.0L135.1 68.4L135.5 70.8L135.9 73.3L136.3 75.2M138.7 85.2L139.2 87.3L139.6 89.3L140.1 91.4L140.8 93.8M143.8 103.5L144.7 105.8L145.5 107.9L146.4 109.9L147.4 112.0M152.2 121.0L153.5 123.0L154.9 124.9L156.4 126.7L158.0 128.4M165.6 134.7L167.6 135.8L169.7 136.6L171.8 137.2L174.2 137.8M184.4 138.8L186.8 138.6L189.0 138.2L191.3 137.6L193.2 136.9M202.0 132.5L203.9 131.4L205.7 130.3L207.5 129.2L209.3 128.1L210.1 127.7M218.4 122.2L220.3 120.9L222.1 119.5L224.0 118.2L225.9 116.7M233.6 110.5L235.5 108.9L237.2 107.4L239.0 105.8L240.7 104.2M247.9 97.2L249.5 95.6L251.1 93.9L252.7 92.2L254.3 90.5M273.5 68.2L274.8 66.7L276.4 64.7L277.8 63.0L279.1 61.4L279.3 61.1M285.7 53.0L287.1 51.1L288.6 49.1L289.9 47.2L291.0 45.7M296.7 37.3L297.8 35.5L298.9 33.8L299.9 32.0L301.1 29.9L301.3 29.4M305.7 20.5L306.7 18.1L307.5 16.0L308.4 13.1L308.9 11.9" fill="none" stroke="#000" stroke-width="1.35" stroke-linejoin="round" stroke-linecap="butt"/>
<path d="M125.1 8.5L125.3 11.0L125.4 13.4L125.6 16.1L125.7 18.1M126.3 27.8L126.4 30.1L126.6 32.4L126.7 34.6L126.9 36.9L127.0 37.4M128.3 47.4L128.5 49.8L128.8 52.2L129.0 54.6L129.3 56.5M131.0 66.5L131.3 68.9L131.5 71.3L131.8 73.7L132.0 75.7M133.2 85.6L133.6 87.7L134.0 89.7L134.4 91.9L134.9 94.3M137.2 104.4L137.7 106.5L138.1 108.5L138.6 110.6L139.3 113.0M142.7 122.7L143.5 124.9L144.2 127.0L145.0 129.1L145.9 131.3M150.5 140.8L151.8 143.2L152.8 145.0L153.7 146.8L154.8 148.6M163.3 153.4L165.3 154.3L167.3 155.4L169.5 156.6L171.2 157.5M181.3 159.5L183.7 159.5L185.9 159.4L188.2 159.0L190.2 158.5M199.8 154.6L201.6 153.7L203.5 152.7L205.3 151.7L207.1 150.7L207.9 150.3M216.5 145.0L218.5 143.7L220.4 142.4L222.4 141.1L223.9 139.9M232.1 133.6L234.0 132.1L235.9 130.5L237.7 129.0L239.2 127.8M246.7 121.2L248.4 119.6L250.2 118.0L251.9 116.4L253.3 115.1M260.4 108.1L262.1 106.4L263.7 104.6L265.4 102.9L267.0 101.1M273.8 93.6L275.4 91.7L277.0 89.9L278.5 88.0L279.8 86.6M285.9 79.1L287.5 77.2L289.0 75.3L290.5 73.4L291.7 71.9M298.0 63.9L299.5 62.0L301.0 60.1L302.5 58.2L303.7 56.7M309.8 48.6L311.2 46.7L312.5 44.8L313.9 42.9L315.2 41.0M320.5 32.6L321.5 30.8L322.8 28.6L324.0 26.3L324.8 24.6M329.0 15.2L329.9 12.8L330.6 10.6L331.3 8.5" fill="none" stroke="#000" stroke-width="1.35" stroke-linejoin="round" stroke-linecap="butt"/>
<path d="M122.7 8.5L122.9 11.0L123.0 13.4L123.2 16.1L123.3 18.1M123.7 27.8L123.8 30.1L123.9 32.4L124.1 34.6L124.3 36.9L124.4 37.4M126.1 47.4L126.3 49.8L126.4 52.2L126.5 54.6L126.6 56.5M127.7 66.5L128.0 68.9L128.2 71.3L128.4 73.7L128.6 75.7M129.5 85.6L129.8 87.7L130.1 89.7L130.4 91.9L130.7 94.3L130.8 94.8M132.5 104.4L132.8 106.5L133.2 108.5L133.6 110.6L134.1 113.0L134.2 113.5M136.6 123.6L137.1 125.8L137.5 127.8L138.0 129.9L138.7 132.3M142.0 141.8L142.9 144.2L143.9 146.6L144.8 149.0L145.4 150.4M149.3 160.1L150.5 162.4L152.0 164.8L153.5 167.1L154.1 167.9M162.4 173.0L164.3 174.3L166.5 175.8L168.7 177.3L170.0 178.0M179.6 180.6L182.0 180.9L184.2 181.1L186.5 181.0L189.1 180.5M198.1 176.7L200.0 175.7L201.8 174.8L203.6 173.8L205.5 172.7L206.3 172.3M214.8 167.2L216.8 165.9L218.8 164.6L220.7 163.3L222.7 162.0M230.9 155.9L232.9 154.4L234.8 152.9L236.7 151.4L238.2 150.2M245.8 143.8L247.7 142.3L249.4 140.7L251.2 139.1L252.7 137.8M260.0 130.7L261.8 129.0L263.5 127.3L265.2 125.6L266.6 124.2M273.3 117.2L275.0 115.4L276.6 113.6L278.3 111.9L279.6 110.4M299.4 88.4L301.0 86.6L302.5 84.7L304.1 82.9L305.4 81.4M311.8 73.5L313.3 71.6L314.8 69.8L316.4 67.9L317.6 66.4M323.8 58.6L325.3 56.7L326.7 54.8L328.2 52.9L329.4 51.4M335.7 43.1L337.0 41.2L338.4 39.3L339.6 37.4L340.9 35.5M345.9 27.0L346.9 25.1L347.9 23.2L348.8 21.2L349.7 19.0L349.9 18.6" fill="none" stroke="#000" stroke-width="1.35" stroke-linejoin="round" stroke-linecap="butt"/>
<path d="M121.2 8.5L121.4 11.0L121.5 13.4L121.7 16.1L121.8 18.1M122.2 27.8L122.3 30.1L122.5 32.4L122.6 34.6L122.8 36.9L122.8 37.4M124.1 47.4L124.3 49.8L124.4 52.2L124.5 54.6L124.6 56.5M125.3 66.5L125.5 68.9L125.7 71.3L125.9 73.7L126.1 75.7M126.5 85.6L126.8 87.7L127.0 89.7L127.3 91.9L127.5 94.3L127.6 94.8M128.4 104.9L128.6 107.0L128.9 109.0L129.3 111.1L129.6 113.5L129.7 114.0M131.4 124.1L131.8 126.2L132.2 128.2L132.6 130.4L133.2 132.8M135.9 142.8L136.5 145.2L137.2 147.6L137.9 149.9L138.3 151.4M141.3 161.0L142.2 163.3L143.2 165.5L144.2 167.5L145.1 169.6M148.7 179.3L149.9 181.5L151.3 183.8L152.8 185.9L153.4 186.7M160.8 194.1L162.6 195.8L164.5 197.5L166.5 199.0L167.7 199.7M177.4 202.8L179.6 203.1L181.9 203.3L184.3 203.1L186.5 202.7M196.0 199.3L197.9 198.4L199.8 197.5L201.7 196.6L203.6 195.6L204.3 195.2M212.9 190.4L214.9 189.2L216.8 187.9L218.7 186.6L220.6 185.3M228.7 179.3L230.6 177.8L232.4 176.3L234.3 174.8L236.1 173.3M243.7 166.7L245.6 165.1L247.4 163.4L249.2 161.8L250.3 160.8M257.8 153.5L259.6 151.8L261.4 150.1L263.2 148.4L264.2 147.3M271.7 140.0L273.4 138.2L275.2 136.5L277.0 134.8L278.0 133.8M285.4 126.8L287.1 125.2L288.9 123.5L290.6 121.8L292.0 120.5M299.2 113.3L300.9 111.6L302.6 109.9L304.2 108.1L305.5 106.8M312.3 99.4L313.9 97.6L315.5 95.8L317.0 94.1L318.6 92.3M325.0 84.8L326.5 83.0L328.1 81.2L329.6 79.3L331.2 77.5M337.3 69.9L338.8 68.1L340.4 66.2L341.9 64.3L343.2 62.8M349.7 54.8L351.2 52.9L352.7 51.1L354.2 49.2L355.4 47.7M361.8 39.7L363.1 37.8L364.4 36.1L365.6 34.3L366.8 32.5L367.0 32.2M372.2 23.8L373.4 21.5L374.3 19.7L375.2 17.8L376.0 16.0L376.3 15.1" fill="none" stroke="#000" stroke-width="1.35" stroke-linejoin="round" stroke-linecap="butt"/>
<path d="M119.7 8.5L119.9 11.0L120.1 13.4L120.2 16.1L120.3 18.1M120.5 27.8L120.6 30.1L120.8 32.4L121.0 34.6L121.1 36.9L121.1 37.4M121.4 47.4L121.6 49.8L121.7 52.2L121.8 54.6L121.9 56.5M122.3 66.5L122.5 68.9L122.6 71.3L122.8 73.7L123.0 75.7M123.6 85.6L123.8 87.7L124.0 89.7L124.2 91.9L124.4 94.3L124.4 94.8M125.1 104.9L125.4 107.0L125.7 109.0L126.1 111.1L126.4 113.5L126.5 114.0M128.3 124.1L128.7 126.2L129.1 128.2L129.4 130.4L129.8 132.8L129.9 133.3M131.2 143.3L131.5 145.7L131.8 148.0L132.2 150.4L132.6 152.4M135.2 162.0L135.9 164.2L136.7 166.3L137.3 168.4L137.9 170.4L138.0 170.8M140.7 180.5L141.9 182.6L143.0 184.8L143.9 187.2L144.3 188.7M146.6 198.8L147.9 201.0L149.3 203.2L150.8 205.2L151.6 206.4M157.5 214.5L158.9 216.5L160.5 218.4L162.2 220.2L163.4 221.2M172.6 226.2L175.0 227.0L177.4 227.6L179.9 227.9L181.3 228.0M190.9 225.6L193.3 224.6L195.6 223.4L197.9 222.1L199.4 221.3M208.0 216.3L210.1 215.1L212.2 213.8L214.4 212.3L215.9 211.4M224.0 205.8L225.8 204.5L227.6 203.1L229.4 201.7L231.2 200.3L231.5 200.0M239.0 193.6L240.8 192.0L242.6 190.5L244.3 188.9L246.1 187.2M253.4 180.3L255.1 178.6L256.9 176.9L258.7 175.3L260.1 173.9M267.1 167.2L268.9 165.6L270.6 163.9L272.4 162.2L273.8 160.8M281.2 153.7L283.0 152.0L284.7 150.2L286.5 148.5L287.9 147.1M308.3 126.5L310.0 124.8L311.7 123.0L313.4 121.3L314.7 119.9M322.0 112.4L323.6 110.7L325.2 108.9L326.8 107.2L328.1 105.8M334.9 98.5L336.5 96.8L338.1 95.0L339.7 93.2L341.0 91.7M347.8 83.9L349.4 82.1L351.0 80.2L352.6 78.3L353.8 77.0M360.4 69.2L362.0 67.4L363.6 65.6L365.2 63.9L366.4 62.5M373.2 55.2L374.6 53.6L376.1 52.1L377.9 50.2L379.7 48.4M386.7 41.4L388.3 39.7L390.3 37.7L392.1 35.7L393.1 34.6M399.2 26.3L400.4 24.3L401.5 22.3L402.5 20.3L403.5 18.1" fill="none" stroke="#000" stroke-width="1.35" stroke-linejoin="round" stroke-linecap="butt"/>
<path d="M87.0 8.6L87.1 10.6L87.3 12.6L87.4 14.7L87.5 16.7L87.6 17.1M88.9 21.3L88.6 23.3L88.3 25.3L88.1 27.3L87.8 29.3M87.4 33.6L87.4 34.0" fill="none" stroke="#000" stroke-width="1.35" stroke-linejoin="round" stroke-linecap="butt"/>
<path d="M87.5 337.0L88.0 339.1L88.4 342.0L88.6 344.1M88.8 348.5L88.8 350.6L88.9 352.6L88.9 355.0L88.9 355.5M88.6 360.0L88.1 362.5L87.6 364.7L87.2 366.5" fill="none" stroke="#000" stroke-width="1.35" stroke-linejoin="round" stroke-linecap="butt"/>
<path d="M117.3 337.3L114.5 337.1L112.4 337.0L111.6 337.0M108.1 337.2L105.4 337.7L102.6 338.6M103.1 340.7L105.4 341.5L108.2 342.0L108.7 342.0M112.4 342.5L113.5 342.6" fill="none" stroke="#000" stroke-width="1.35" stroke-linejoin="round" stroke-linecap="butt"/>
<path d="M566.8 70.0L566.9 70.6L567.0 71.3L567.1 72.2L567.2 73.2L567.4 74.2L567.5 75.3L567.6 76.6L567.8 78.2L567.9 79.8L568.1 81.3L568.3 82.3L568.5 82.7L568.8 82.3L569.1 81.3L569.5 79.8L569.9 78.2L570.3 76.6L570.7 75.3L571.0 74.3L571.4 73.3L571.7 72.3L572.0 71.4L572.4 70.6L572.8 69.9L573.3 69.3L573.8 68.9L574.4 68.5L574.9 68.2L575.5 67.7L576.0 67.2L576.5 66.5L576.9 65.7L577.4 64.8L577.8 64.0L578.3 63.1L578.7 62.4L579.1 61.7L579.6 61.1L580.0 60.5L580.4 60.0L580.9 59.5L581.4 59.2L582.0 59.0L582.6 59.0L583.2 59.1L583.9 59.2L584.5 59.3L585.1 59.2L585.7 59.0L586.2 58.7L586.8 58.4L587.3 58.0L587.8 57.5L588.3 57.1L588.8 56.6L589.3 56.0L589.7 55.4L590.2 54.8L590.6 54.3L591.0 53.9L591.4 53.6L591.8 53.4L592.1 53.2L592.5 53.2L592.8 53.2L593.1 53.4L593.4 53.8L593.7 54.3L594.0 55.0L594.2 55.7L594.5 56.4L594.7 57.1L594.9 57.8L595.1 58.6L595.2 59.5L595.4 60.2L595.6 60.7L595.8 60.8L596.0 60.5L596.3 59.7L596.5 58.8L596.8 57.7L597.1 56.7L597.4 56.0L597.7 55.5L598.1 55.0L598.4 54.6L598.8 54.3L599.1 54.0L599.5 53.9L599.9 53.8L600.2 53.9L600.6 54.0L601.0 54.2L601.4 54.5L601.7 55.0L602.0 55.6L602.3 56.3L602.5 57.1L602.8 58.1L603.0 59.1L603.3 60.3L603.6 61.6L603.8 63.1L604.1 64.8L604.3 66.5L604.6 68.2L604.9 69.9L605.2 71.7L605.6 73.5L606.0 75.5L606.4 77.3L606.7 79.1L607.0 80.6L607.2 81.9L607.4 83.0L607.5 83.9L607.6 84.8L607.8 85.8L608.1 87.0L608.5 88.3L609.0 89.5L609.5 90.9L610.1 92.4L610.7 94.1L611.3 96.0L612.0 98.4L612.7 101.1L613.5 104.1L614.3 107.0L615.0 109.7L615.6 112.0L616.1 113.7L616.5 115.0L616.8 116.0L617.2 117.0L617.6 118.3L618.2 120.0L619.0 122.2L619.8 124.7L620.8 127.5L621.8 130.4L622.9 133.2L624.1 136.0L625.4 138.8L626.9 141.6L628.5 144.5L630.0 147.3L631.4 149.8L632.6 152.0L633.5 153.7L634.1 155.0L634.6 156.1L635.1 157.2L635.9 158.4L636.9 160.0L638.3 162.0L639.9 164.2L641.7 166.5L643.7 169.0L645.6 171.5L647.6 173.9L649.5 176.2L651.3 178.4L653.2 180.7L655.2 183.0L657.4 185.5L659.9 188.3L662.7 191.4L665.9 194.6L669.2 198.1L672.7 201.7L676.2 205.4L679.7 209.1L683.4 213.2L687.5 217.8L691.6 222.4L695.4 226.8L698.7 230.5L701.0 233.1" fill="none" stroke="#000" stroke-width="1.35" stroke-linejoin="round" stroke-linecap="butt"/>
<path d="M566.5 95.0L566.6 95.9L566.8 97.3L566.9 99.0L567.1 100.5L567.3 101.8L567.5 102.4L567.6 102.4L567.7 102.0L567.9 101.2L568.0 100.3L568.2 99.2L568.5 98.2L568.9 97.1L569.4 95.8L570.0 94.4L570.5 93.0L571.2 91.8L571.8 90.7L572.5 89.8L573.2 89.1L573.9 88.5L574.7 87.9L575.4 87.4L576.0 86.9L576.5 86.4L577.1 86.0L577.5 85.7L577.9 85.4L578.3 85.1L578.7 84.8L579.0 84.5L579.4 84.3L579.7 84.1L579.9 83.9L580.1 83.7L580.3 83.6" fill="none" stroke="#000" stroke-width="1.35" stroke-linejoin="round" stroke-linecap="butt"/>
<path d="M592.4 75.5L592.5 75.5L592.5 75.3L592.6 75.2L592.7 75.2L592.9 75.4L593.1 75.8L593.4 76.7L593.9 78.0L594.4 79.5L594.9 81.0L595.4 82.1L595.8 82.7L596.1 82.6L596.4 82.0L596.6 81.1L596.8 80.1L597.1 79.2L597.4 78.5L597.8 78.0L598.2 77.6L598.7 77.2L599.2 76.9L599.7 76.8L600.1 76.9L600.5 77.2L600.9 77.6L601.2 78.3L601.6 79.0L601.9 79.8L602.2 80.6L602.5 81.5L602.8 82.5L603.0 83.6L603.2 84.7L603.5 85.9L603.8 87.0L604.1 88.0L604.4 88.8L604.7 89.7L605.0 90.8L605.4 92.1L605.9 93.9L606.5 96.4L607.2 99.5L608.0 102.9L608.8 106.3L609.6 109.4L610.2 112.0L610.7 113.8L611.0 115.1L611.3 116.1L611.6 117.1L611.9 118.3L612.4 120.0L613.0 122.2L613.6 124.7L614.2 127.5L615.0 130.4L615.7 133.2L616.6 136.0L617.6 138.8L618.7 141.6L619.9 144.5L621.1 147.3L622.1 149.8L623.0 152.0L623.6 153.7L624.0 155.0L624.2 156.0L624.5 157.0L625.0 158.3L625.7 160.0L626.7 162.2L627.9 164.7L629.3 167.4L630.7 170.2L632.2 173.1L633.7 176.0L635.2 179.0L636.9 182.1L638.6 185.3L640.2 188.5L641.8 191.5L643.3 194.2L644.6 196.6L645.9 198.9L647.1 200.9L648.2 202.9L649.3 204.9L650.3 207.0L651.3 209.2L652.2 211.4L653.0 213.6L653.8 215.7L654.5 217.9L655.1 220.0L655.7 222.1L656.2 224.2L656.6 226.3L656.9 228.3L657.2 230.2L657.5 232.0L657.7 233.5L657.9 234.9L658.0 236.1L658.0 237.3L657.9 238.6L657.8 240.0L657.6 241.6L657.3 243.2L656.9 245.0L656.5 246.8L655.9 248.7L655.1 250.7L654.1 252.8L653.0 255.1L651.7 257.5L650.4 259.8L649.0 262.2L647.6 264.6L646.3 266.9L644.9 269.2L643.5 271.5L642.1 273.8L640.7 276.1L639.1 278.5L637.4 281.0L635.6 283.6L633.8 286.3L631.9 288.9L630.1 291.5L628.4 293.9L626.8 296.2L625.4 298.4L624.0 300.5L622.6 302.6L621.2 304.7L619.8 306.7L618.3 308.8L616.8 311.0L615.3 313.1L613.9 315.1L612.5 317.0L611.3 318.5L610.2 319.7L609.2 320.7L608.3 321.4L607.5 322.1L606.7 322.6L605.9 323.2L605.1 323.8L604.4 324.3L603.8 324.7L603.1 325.1L602.4 325.4L601.7 325.7L600.9 325.9L600.1 326.0L599.3 326.0L598.5 326.0L597.7 326.1L596.9 326.2L596.2 326.4L595.5 326.7L594.9 327.1L594.1 327.4L593.2 327.7L592.1 327.8L590.6 327.8L588.9 327.7L587.0 327.5L585.0 327.3L583.1 327.1L581.4 326.8L579.8 326.5L578.2 326.2L576.7 325.8L575.3 325.5L574.0 325.0L572.8 324.6L571.8 324.1L570.9 323.4L570.1 322.8L569.4 322.1L568.8 321.7L568.3 321.4L567.9 321.4L567.7 321.6L567.6 322.0L567.6 322.4L567.5 322.8L567.5 323.0" fill="none" stroke="#000" stroke-width="1.35" stroke-linejoin="round" stroke-linecap="butt"/>
<path d="M566.5 115.0L566.6 116.0L566.7 117.5L566.9 119.2L567.1 120.9L567.3 122.1L567.5 122.7L567.7 122.4L567.9 121.6L568.2 120.3L568.5 118.9L568.8 117.5L569.1 116.3L569.5 115.3L569.9 114.4L570.3 113.5L570.7 112.6L571.3 111.8L571.8 111.0L572.4 110.3L573.1 109.7L573.9 109.1L574.6 108.5L575.3 107.9L576.0 107.2L576.6 106.4L577.2 105.6L577.7 104.7L578.2 103.8L578.7 103.1L579.2 102.4L579.7 101.9L580.1 101.4L580.5 101.1L580.9 100.7L581.4 100.5L581.9 100.3L582.5 100.2L583.1 100.2L583.7 100.3L584.4 100.4L585.0 100.4L585.6 100.3L586.2 100.1L586.7 99.8L587.3 99.4L587.8 99.0L588.3 98.6L588.8 98.2L589.3 97.8L589.8 97.4L590.2 96.9L590.7 96.5L591.1 96.2L591.5 96.0L591.9 95.9L592.3 96.0L592.7 96.1L593.0 96.3L593.4 96.6L593.7 97.1L594.0 97.8L594.3 98.9L594.5 100.0L594.8 101.1L595.0 102.0L595.3 102.4L595.6 102.3L595.8 101.8L596.1 101.0L596.3 100.1L596.6 99.3L596.9 98.7L597.2 98.3L597.6 97.9L597.9 97.6L598.3 97.4L598.6 97.2L599.0 97.1L599.3 97.0L599.7 97.0L600.0 96.9L600.4 97.0L600.7 97.2L601.1 97.6L601.5 98.1L601.8 98.7L602.2 99.4L602.6 100.3L602.9 101.3L603.3 102.4L603.7 103.8L604.0 105.3L604.4 107.1L604.7 108.8L605.1 110.5L605.4 112.1L605.7 113.4L605.9 114.6L606.1 115.7L606.3 116.8L606.6 118.2L607.0 120.0L607.5 122.2L608.0 124.7L608.6 127.5L609.3 130.4L610.0 133.2L610.7 136.0L611.5 138.8L612.3 141.6L613.2 144.5L614.1 147.3L614.9 149.8L615.6 152.0L616.1 153.7L616.5 155.0L616.8 156.0L617.2 157.0L617.6 158.3L618.2 160.0L619.0 162.2L619.9 164.7L620.9 167.5L622.0 170.4L623.0 173.2L624.1 176.0L625.2 178.7L626.3 181.4L627.4 184.1L628.5 186.7L629.5 189.4L630.5 192.0L631.4 194.6L632.2 197.3L632.9 200.0L633.6 202.5L634.2 204.9L634.8 207.0L635.3 208.8L635.7 210.4L636.1 211.7L636.4 213.0L636.6 214.3L636.9 215.6L637.1 217.1L637.4 218.6L637.5 220.2L637.7 221.6L637.8 222.8L637.9 223.7" fill="none" stroke="#000" stroke-width="1.35" stroke-linejoin="round" stroke-linecap="butt"/>
<path d="M638.7 238.3L638.6 239.6L638.5 241.4L638.4 243.5L638.2 245.8L637.9 248.3L637.5 250.7L636.9 253.2L636.2 255.9L635.4 258.6L634.5 261.4L633.5 264.1L632.6 266.7L631.6 269.0L630.6 271.2L629.5 273.3L628.4 275.5L627.3 277.7L626.2 280.0L625.1 282.5L624.1 285.3L623.0 288.0L621.9 290.8L620.9 293.5L619.8 296.0L618.7 298.4L617.6 300.7L616.5 302.9L615.5 305.0L614.4 306.9L613.4 308.8L612.4 310.5L611.5 312.1L610.6 313.6L609.8 315.0L608.9 316.2L608.1 317.4L607.3 318.5L606.6 319.4L605.8 320.2L605.1 321.0L604.4 321.6L603.8 322.2L603.2 322.7L602.6 323.0L602.1 323.3L601.6 323.4L601.1 323.5L600.6 323.6L600.1 323.6L599.6 323.5L599.1 323.3L598.7 323.1L598.3 322.9L597.9 322.7L597.6 322.5L597.3 322.3L597.0 322.0L596.8 321.8L596.6 321.7L596.3 321.7L596.0 321.8L595.8 322.1L595.6 322.4L595.3 322.7L595.0 323.0L594.7 323.3L594.4 323.5L594.0 323.7L593.6 323.9L593.2 324.1L592.7 324.2L592.1 324.3L591.4 324.3L590.6 324.3L589.7 324.3L588.8 324.2L587.8 324.1L586.7 324.0L585.5 323.8L584.3 323.7L582.9 323.4L581.6 323.2L580.3 322.9L579.2 322.7L578.2 322.5L577.2 322.2L576.4 322.0L575.5 321.7L574.7 321.4L573.9 321.1L573.1 320.7L572.3 320.3L571.5 319.9L570.8 319.4L570.1 319.0L569.6 318.5L569.2 318.0L568.9 317.4L568.7 316.8L568.6 316.3L568.5 315.9L568.3 315.8L568.1 316.0L568.0 316.4L567.8 317.0L567.7 317.6L567.6 318.1L567.5 318.5" fill="none" stroke="#000" stroke-width="1.35" stroke-linejoin="round" stroke-linecap="butt"/>
<path d="M566.5 134.0L566.6 135.0L566.7 136.4L566.9 138.0L567.1 139.6L567.3 140.8L567.5 141.4L567.7 141.2L567.9 140.5L568.2 139.5L568.5 138.3L568.8 137.0L569.1 136.0L569.5 135.1L569.9 134.1L570.3 133.2L570.7 132.3L571.3 131.5L571.8 130.7L572.4 130.0L573.1 129.5L573.9 128.9L574.7 128.5L575.4 128.0L576.0 127.5L576.5 127.0L577.1 126.5L577.5 126.0L577.9 125.6L578.3 125.2L578.7 124.8L579.0 124.5L579.4 124.2L579.7 124.0L579.9 123.9L580.1 123.7L580.3 123.6" fill="none" stroke="#000" stroke-width="1.35" stroke-linejoin="round" stroke-linecap="butt"/>
<path d="M593.0 116.6L593.1 116.6L593.1 116.5L593.2 116.4L593.3 116.4L593.5 116.6L593.7 116.9L594.0 117.6L594.3 118.6L594.7 119.8L595.1 120.9L595.5 121.8L595.8 122.2L596.1 122.1L596.3 121.5L596.6 120.8L596.8 119.9L597.1 119.1L597.4 118.5L597.8 118.1L598.2 117.8L598.7 117.5L599.2 117.4L599.7 117.3L600.1 117.4L600.5 117.6L600.9 118.0L601.2 118.5L601.6 119.1L601.9 119.8L602.2 120.6L602.5 121.5L602.8 122.4L603.0 123.4L603.2 124.6L603.5 125.7L603.8 127.0L604.1 128.3L604.4 129.5L604.7 130.9L605.0 132.4L605.4 134.1L605.9 136.0L606.5 138.4L607.2 141.1L608.0 144.1L608.8 147.0L609.6 149.7L610.2 152.0L610.7 153.7L611.0 155.0L611.3 156.0L611.6 157.0L611.9 158.3L612.4 160.0L613.0 162.2L613.6 164.7L614.3 167.5L615.1 170.4L615.8 173.2L616.6 176.0L617.4 178.7L618.2 181.4L619.1 184.1L619.9 186.7L620.7 189.4L621.4 192.0L622.0 194.5L622.5 197.0L622.9 199.4L623.3 201.9L623.7 204.4L624.1 207.0L624.5 209.7L625.0 212.6L625.4 215.4L625.8 218.3L626.2 221.2L626.5 224.0L626.8 226.7L627.0 229.4L627.1 232.1L627.3 234.7L627.3 237.3L627.3 240.0L627.2 242.7L627.1 245.3L626.8 248.0L626.6 250.7L626.2 253.3L625.7 256.0L625.1 258.7L624.3 261.6L623.4 264.4L622.6 267.1L621.7 269.7L620.9 272.1L620.2 274.2L619.5 276.2L618.8 277.9L618.2 279.6L617.6 281.3L617.0 283.0L616.5 284.7L616.1 286.3L615.8 287.8L615.4 289.4L615.0 291.1L614.5 292.8L613.9 294.7L613.2 296.7L612.5 298.8L611.7 300.8L610.9 302.8L610.2 304.6L609.5 306.3L608.7 307.8L608.0 309.3L607.3 310.7L606.6 312.0L605.9 313.1L605.3 314.1L604.7 315.0L604.2 315.7L603.7 316.3L603.2 316.9L602.7 317.4L602.2 317.8L601.8 318.1L601.4 318.4L601.0 318.5L600.5 318.6L600.1 318.7L599.6 318.7L599.2 318.6L598.7 318.5L598.2 318.3L597.8 318.1L597.4 317.9L597.1 317.6L596.8 317.3L596.5 316.9L596.3 316.6L596.0 316.4L595.8 316.3L595.6 316.5L595.5 316.8L595.3 317.2L595.2 317.7L595.0 318.2L594.7 318.5L594.4 318.8L594.0 319.0L593.7 319.2L593.2 319.3L592.7 319.5L592.1 319.5L591.4 319.5L590.5 319.4L589.6 319.2L588.6 319.1L587.6 318.9L586.7 318.7L585.8 318.5L584.9 318.3L584.0 318.1L583.1 317.9L582.2 317.6L581.4 317.4L580.6 317.2L579.9 316.9L579.2 316.6L578.5 316.4L577.8 316.1L577.1 315.8L576.4 315.5L575.6 315.2L574.9 314.9L574.2 314.5L573.5 314.1L572.8 313.7L572.2 313.2L571.6 312.7L571.0 312.1L570.5 311.5L570.0 311.0L569.6 310.4L569.3 309.8L569.0 309.0L568.8 308.3L568.6 307.7L568.5 307.3L568.3 307.2L568.1 307.6L568.0 308.4L567.8 309.4L567.7 310.5L567.6 311.5L567.5 312.1" fill="none" stroke="#000" stroke-width="1.35" stroke-linejoin="round" stroke-linecap="butt"/>
<path d="M566.2 155.0L566.3 156.0L566.5 157.5L566.8 159.2L567.0 160.9L567.3 162.1L567.5 162.7L567.7 162.4L568.0 161.6L568.2 160.3L568.5 158.9L568.8 157.5L569.1 156.3L569.5 155.3L569.9 154.2L570.3 153.2L570.7 152.2L571.3 151.3L571.8 150.4L572.4 149.7L573.1 149.0L573.9 148.5L574.6 147.9L575.3 147.4L576.0 146.7L576.6 145.9L577.2 145.1L577.7 144.2L578.2 143.3L578.7 142.6L579.2 141.9L579.7 141.4L580.1 140.9L580.5 140.6L580.9 140.2L581.4 140.0L581.9 139.8L582.5 139.7L583.1 139.7L583.7 139.8L584.4 139.9L585.0 139.9L585.6 139.8L586.2 139.6L586.7 139.2L587.3 138.8L587.8 138.4L588.3 138.0L588.8 137.6L589.3 137.2L589.8 136.8L590.2 136.3L590.7 136.0L591.1 135.7L591.5 135.5L591.9 135.4L592.3 135.5L592.7 135.6L593.0 135.8L593.4 136.1L593.7 136.6L594.0 137.3L594.3 138.4L594.5 139.5L594.8 140.6L595.0 141.5L595.3 141.9L595.6 141.8L595.8 141.3L596.1 140.5L596.3 139.6L596.6 138.8L596.9 138.2L597.2 137.8L597.6 137.4L597.9 137.1L598.3 136.9L598.6 136.7L599.0 136.6L599.3 136.6L599.7 136.6L600.0 136.7L600.4 136.9L600.7 137.2L601.1 137.6L601.5 138.1L601.8 138.7L602.2 139.5L602.6 140.3L602.9 141.3L603.3 142.4L603.7 143.8L604.0 145.3L604.4 147.1L604.7 148.8L605.1 150.5L605.4 152.1L605.7 153.4L605.9 154.6L606.1 155.7L606.3 156.8L606.6 158.2L607.0 160.0L607.5 162.2L608.1 164.7L608.7 167.5L609.4 170.4L610.1 173.2L610.7 176.0L611.4 178.7L612.0 181.4L612.7 184.1L613.4 186.7L614.0 189.4L614.5 192.0L614.9 194.5L615.2 197.0L615.4 199.4L615.6 201.9L615.8 204.4L616.1 207.0L616.5 209.7L616.9 212.6L617.3 215.4L617.7 218.3L618.0 221.2L618.3 224.0L618.5 226.7L618.7 229.4L618.8 232.1L618.9 234.7L618.9 237.3L618.8 240.0L618.7 242.7L618.5 245.3L618.2 248.0L617.9 250.7L617.6 253.3L617.2 256.0L616.8 258.7L616.2 261.6L615.7 264.4L615.1 267.1L614.5 269.7L614.0 272.1L613.5 274.2L612.9 276.1L612.4 277.9L611.9 279.6L611.4 281.2L611.0 283.0L610.6 284.8L610.3 286.7L610.1 288.5L609.8 290.4L609.5 292.2L609.1 293.9L608.6 295.6L608.1 297.4L607.6 299.0L607.0 300.7L606.4 302.2L605.9 303.5L605.4 304.7L604.8 305.7L604.3 306.6L603.7 307.4L603.2 308.1L602.7 308.8L602.2 309.4L601.8 309.9L601.4 310.3L601.0 310.6L600.5 310.9L600.1 311.0L599.6 311.0L599.2 310.9L598.7 310.7L598.2 310.5L597.8 310.2L597.4 309.9L597.1 309.6L596.8 309.1L596.5 308.6L596.3 308.2L596.0 307.9L595.8 307.8L595.6 307.9L595.4 308.2L595.3 308.7L595.1 309.1L594.9 309.6L594.7 309.9L594.4 310.2L594.1 310.4L593.8 310.7L593.5 310.8L593.1 311.0L592.6 311.0L592.1 310.9L591.5 310.8L590.8 310.6L590.2 310.3L589.5 310.1L588.8 309.9L588.1 309.7L587.4 309.5L586.7 309.3L586.0 309.2L585.3 309.0L584.6 308.8L583.9 308.6L583.2 308.5L582.5 308.4L581.7 308.3L581.0 308.1L580.3 307.8L579.6 307.4L578.8 307.0L578.1 306.5L577.4 306.0L576.7 305.5L576.0 305.1L575.3 304.7L574.7 304.4L574.0 304.1L573.4 303.8L572.9 303.4L572.3 303.0L571.8 302.5L571.3 302.1L570.8 301.5L570.4 301.0L570.0 300.4L569.6 299.8L569.3 299.0L569.0 298.1L568.8 297.1L568.6 296.2L568.5 295.6L568.3 295.5L568.1 296.0L568.0 296.9L567.8 298.2L567.7 299.5L567.6 300.6L567.5 301.4" fill="none" stroke="#000" stroke-width="1.35" stroke-linejoin="round" stroke-linecap="butt"/>
<path d="M566.5 178.0L566.7 179.0L566.9 180.5L567.1 182.2L567.4 183.8L567.7 185.1L568.0 185.6L568.2 185.3L568.5 184.5L568.7 183.3L569.0 181.9L569.3 180.4L569.6 179.2L570.0 178.1L570.4 177.0L570.8 175.8L571.3 174.7L571.8 173.7L572.3 172.8L572.9 172.0L573.5 171.3L574.1 170.8L574.8 170.2L575.4 169.7L576.0 169.1L576.5 168.5L577.0 167.9L577.5 167.3L577.9 166.8L578.3 166.3L578.7 165.9L579.0 165.6L579.4 165.3L579.7 165.1L579.9 164.9L580.1 164.8L580.3 164.7" fill="none" stroke="#000" stroke-width="1.35" stroke-linejoin="round" stroke-linecap="butt"/>
<path d="M593.0 156.6L593.1 156.6L593.1 156.5L593.2 156.4L593.3 156.4L593.5 156.6L593.7 156.9L594.0 157.6L594.3 158.6L594.7 159.8L595.1 161.0L595.5 161.8L595.8 162.2L596.1 162.0L596.3 161.4L596.6 160.5L596.8 159.5L597.1 158.6L597.4 158.0L597.8 157.6L598.2 157.2L598.7 157.0L599.2 156.8L599.7 156.8L600.1 156.9L600.5 157.1L600.8 157.3L601.2 157.7L601.5 158.2L601.8 159.0L602.2 160.0L602.6 161.3L603.0 162.8L603.5 164.5L603.9 166.5L604.4 168.5L604.9 170.7L605.4 173.0L605.9 175.5L606.5 178.1L607.0 180.9L607.6 183.7L608.1 186.7L608.7 189.9L609.2 193.3L609.8 196.8L610.4 200.3L610.9 203.8L611.3 207.0L611.6 210.0L611.9 212.9L612.1 215.8L612.3 218.5L612.5 221.3L612.6 224.0L612.7 226.7L612.8 229.4L612.9 232.1L613.0 234.7L613.0 237.3L612.9 240.0L612.8 242.7L612.5 245.3L612.3 248.0L612.0 250.7L611.7 253.3L611.3 256.0L610.9 258.8L610.4 261.7L609.9 264.6L609.5 267.3L609.0 269.9L608.6 272.1L608.3 273.8L608.0 275.2L607.8 276.3L607.6 277.4L607.3 278.6L607.0 280.0L606.6 281.8L606.2 283.8L605.7 286.0L605.2 288.1L604.8 290.1L604.3 291.8L603.9 293.3L603.4 294.7L603.0 295.9L602.5 297.0L602.1 297.9L601.7 298.7L601.3 299.3L600.9 299.7L600.6 300.0L600.2 300.2L599.9 300.3L599.5 300.3L599.1 300.3L598.8 300.2L598.4 300.1L598.1 299.8L597.7 299.5L597.4 299.2L597.1 298.7L596.8 298.1L596.5 297.3L596.3 296.7L596.0 296.2L595.8 296.0L595.6 296.2L595.4 296.7L595.3 297.3L595.1 298.0L594.9 298.7L594.7 299.2L594.4 299.6L594.1 300.0L593.8 300.3L593.4 300.6L593.0 300.7L592.6 300.8L592.1 300.7L591.6 300.5L591.1 300.2L590.5 299.9L589.9 299.5L589.4 299.2L588.9 298.9L588.3 298.6L587.8 298.3L587.3 298.1L586.7 297.8L586.2 297.6L585.7 297.5L585.1 297.4L584.6 297.4L584.1 297.3L583.5 297.2L583.0 297.1L582.5 296.9L581.9 296.7L581.4 296.5L580.9 296.2L580.3 295.9L579.8 295.5L579.3 295.0L578.7 294.5L578.2 293.9L577.7 293.4L577.1 292.8L576.6 292.3L576.1 291.9L575.5 291.6L575.0 291.3L574.5 291.0L573.9 290.6L573.4 290.1L572.8 289.5L572.2 288.8L571.6 288.1L571.1 287.2L570.6 286.3L570.1 285.3L569.7 284.0L569.4 282.4L569.1 280.7L568.9 279.1L568.7 278.0L568.5 277.4L568.3 277.6L568.2 278.5L568.0 279.7L567.9 281.0L567.9 282.2L567.8 283.0" fill="none" stroke="#000" stroke-width="1.35" stroke-linejoin="round" stroke-linecap="butt"/>
<path d="M588.5 220.3L588.4 220.4L588.3 220.5L588.2 220.6L588.1 220.8L587.9 221.0L587.6 221.3L587.3 221.7L586.8 222.1L586.4 222.7L585.9 223.2L585.4 223.6L584.9 224.0L584.4 224.2L583.9 224.2L583.4 224.2L582.9 224.3L582.5 224.5L582.1 224.9L581.8 225.6L581.6 226.5L581.4 227.6L581.3 228.8L581.2 230.0L581.2 231.3L581.2 232.7L581.3 234.4L581.4 236.1L581.6 237.7L581.8 239.2L582.1 240.4L582.5 241.2L582.9 241.7L583.4 242.1L583.9 242.4L584.4 242.7L584.9 243.1L585.4 243.6L585.8 244.1L586.3 244.7L586.8 245.3L587.2 245.9L587.6 246.7L587.9 247.6L588.2 248.7L588.5 249.9L588.8 251.1L589.1 252.2L589.4 253.1L589.8 253.9L590.3 254.7L590.7 255.4L591.2 256.0L591.7 256.4L592.1 256.7L592.5 256.8L592.8 256.7L593.1 256.5L593.4 256.1L593.7 255.6L593.9 254.9L594.1 254.1L594.3 253.2L594.5 252.2L594.7 250.9L594.8 249.4L594.9 247.6L594.9 245.4L594.8 242.9L594.7 240.1L594.6 237.2L594.5 234.2L594.5 231.3L594.5 228.2L594.6 224.7L594.7 221.2L594.8 217.9L594.8 215.1L594.9 213.1" fill="none" stroke="#000" stroke-width="1.35" stroke-linejoin="round" stroke-linecap="butt"/>
<path d="M567.5 328.9L567.6 328.7L567.7 328.3L567.8 328.0L568.0 327.6L568.2 327.4L568.5 327.3L568.9 327.4L569.3 327.7L569.8 328.1L570.3 328.5L571.0 329.0L571.8 329.4L572.8 329.8L574.0 330.3L575.3 330.8L576.7 331.3L578.0 331.7L579.2 332.1L580.4 332.4L581.5 332.6L582.6 332.8L583.7 332.9L584.7 333.0L585.6 333.2L586.4 333.4L587.2 333.5L587.8 333.6L588.4 333.8L589.0 334.0L589.4 334.2L589.8 334.5L590.0 334.9L590.2 335.3L590.4 335.7L590.4 336.1L590.4 336.4L590.4 336.7L590.3 337.0L590.1 337.3L589.9 337.6L589.4 337.8L588.8 338.0L587.8 338.2L586.5 338.3L585.1 338.4L583.6 338.4L582.3 338.6L581.4 338.7L580.8 338.9L580.4 339.1L580.2 339.4L580.2 339.6L580.2 339.9L580.3 340.1L580.5 340.3L580.8 340.5L581.2 340.7L581.7 340.9L582.3 341.1L583.0 341.2L583.8 341.3L584.8 341.4L585.9 341.4L586.9 341.5L587.9 341.6L588.8 341.7L589.5 341.9L590.2 342.1L590.8 342.4L591.3 342.6L591.8 342.8L592.1 343.0" fill="none" stroke="#000" stroke-width="1.35" stroke-linejoin="round" stroke-linecap="butt"/>
<path d="M598.7 335.0L598.4 334.8L598.1 334.4L597.6 334.0L597.2 333.6L596.7 333.3L596.3 333.2L595.9 333.3L595.5 333.4L595.1 333.7L594.7 334.1L594.4 334.4L594.2 334.8L594.0 335.2L593.9 335.6L593.9 336.1L593.9 336.6L593.9 337.0L594.0 337.4L594.2 337.8L594.4 338.1L594.7 338.5L595.0 338.8L595.3 339.0L595.5 339.2" fill="none" stroke="#000" stroke-width="1.35" stroke-linejoin="round" stroke-linecap="butt"/>
<path d="M565.5 53.9L565.7 53.9L565.9 54.0L566.2 54.0L566.5 54.1L566.8 54.2L567.0 54.4L567.2 54.7L567.4 55.1L567.6 55.5L567.7 56.0L567.9 56.5L568.0 57.0L568.1 57.6L568.2 58.3L568.3 59.1L568.4 59.8L568.5 60.4L568.5 60.8" fill="none" stroke="#000" stroke-width="1.35" stroke-linejoin="round" stroke-linecap="butt"/>
<path d="M903.7 8.4L903.8 8.8L903.9 9.2L904.1 9.8L904.2 10.5L904.4 11.2L904.5 12.0L904.6 12.9L904.7 13.9L904.7 14.9L904.8 16.0L904.9 17.0L905.1 18.0L905.3 18.9L905.6 19.7L905.9 20.6L906.2 21.3L906.5 22.1L906.9 22.8L907.3 23.5L907.8 24.2L908.4 24.8L908.9 25.4L909.3 25.8L909.6 26.2" fill="none" stroke="#000" stroke-width="1.35" stroke-linejoin="round" stroke-linecap="butt"/>
<path d="M570.7 207.0L570.9 206.1L571.1 205.1L571.2 204.2L571.4 203.4L571.6 202.5L571.8 201.7L572.0 200.9L572.2 200.2L572.5 199.4L572.7 198.7L573.0 198.0L573.4 197.4L573.8 196.8L574.4 196.4L574.9 195.9L575.5 195.4L576.1 194.9L576.6 194.2L577.1 193.3L577.5 192.3L577.9 191.2L578.3 190.2L578.8 189.2L579.2 188.3L579.6 187.6L580.1 187.0L580.5 186.4L580.9 185.9L581.4 185.5L581.9 185.1L582.5 184.8L583.1 184.6L583.8 184.5L584.4 184.4L585.0 184.2L585.6 184.0L586.1 183.7L586.6 183.2L587.0 182.8L587.4 182.3L587.9 181.9L588.3 181.4L588.8 180.9L589.2 180.4L589.7 179.8L590.1 179.3L590.6 178.9L591.0 178.7L591.4 178.6L591.8 178.6L592.1 178.7L592.5 178.9L592.8 179.3L593.1 179.8L593.4 180.6L593.7 181.7L593.9 183.0L594.2 184.2L594.4 185.1L594.7 185.6L595.0 185.5L595.2 185.0L595.5 184.2L595.7 183.4L596.0 182.5L596.3 181.9L596.6 181.4L597.0 181.0L597.3 180.6L597.7 180.2L598.1 180.0L598.5 179.8L598.9 179.7L599.4 179.7L599.8 179.8L600.2 180.0L600.7 180.3L601.1 180.8L601.5 181.5L601.9 182.3L602.3 183.2L602.6 184.3L603.0 185.4L603.3 186.7L603.6 188.1L603.9 189.6L604.2 191.2L604.4 192.9L604.7 194.6L604.9 196.3L605.1 197.9L605.3 199.6L605.4 201.2L605.5 202.9L605.7 204.8L605.9 207.0L606.1 209.5L606.4 212.2L606.7 215.2L607.0 218.2L607.3 221.2L607.5 224.0L607.7 226.8L608.0 229.6L608.2 232.4L608.4 235.1L608.5 237.7L608.6 240.0L608.5 242.1L608.4 244.0L608.2 245.7L608.0 247.3L607.7 249.0L607.5 250.7L607.3 252.5L607.0 254.2L606.8 255.9L606.5 257.7L606.2 259.5L605.9 261.4L605.6 263.5L605.2 265.7L604.9 268.0L604.5 270.2L604.2 272.3L603.8 274.2L603.5 275.8L603.1 277.3L602.8 278.6L602.4 279.8L602.1 280.9L601.7 281.7L601.3 282.4L601.0 282.8L600.6 283.1L600.2 283.3L599.9 283.3L599.5 283.3L599.1 283.2L598.8 282.9L598.4 282.6L598.1 282.1L597.7 281.6L597.4 281.1L597.1 280.4L596.8 279.5L596.6 278.6L596.3 277.7L596.1 277.1L595.8 276.9L595.5 277.2L595.3 277.9L595.0 278.9L594.8 280.0L594.5 281.0L594.2 281.7L593.9 282.3L593.6 282.8L593.3 283.2L592.9 283.5L592.5 283.7L592.1 283.8L591.6 283.7L591.1 283.4L590.5 283.1L589.9 282.6L589.4 282.1L588.8 281.7L588.3 281.3L587.7 280.8L587.2 280.2L586.7 279.8L586.1 279.3L585.6 279.0L585.1 278.8L584.5 278.8L584.0 278.8L583.4 278.7L582.9 278.7L582.4 278.5L581.9 278.2L581.5 277.8L581.1 277.4L580.7 276.9L580.3 276.4L579.8 275.8L579.3 275.1L578.8 274.3L578.2 273.4L577.7 272.6L577.1 271.7L576.6 271.0L576.1 270.4L575.5 269.9L574.9 269.5L574.4 269.0L573.9 268.5L573.4 267.8L573.0 267.0L572.6 266.1L572.2 265.1L571.9 264.0L571.5 262.8L571.2 261.4L570.8 259.9L570.4 258.2L570.1 256.3L569.7 254.4L569.4 252.5L569.1 250.7L568.9 248.9L568.7 247.2L568.6 245.5L568.4 243.8L568.4 241.9L568.3 240.0L568.3 237.9L568.3 235.8L568.3 233.5L568.4 231.3L568.4 229.0L568.5 226.7L568.6 224.4L568.6 221.9L568.7 219.4L568.8 217.0L568.9 214.8L569.1 213.0L569.3 211.5L569.6 210.4L569.9 209.5L570.2 208.7L570.5 207.9L570.7 207.0Z" fill="none" stroke="#000" stroke-width="1.35" stroke-linejoin="round" stroke-linecap="butt"/>
<path d="M567.5 334.8L567.6 335.0L567.7 335.6L567.9 336.5L568.1 337.6L568.4 338.7L568.6 339.5L568.9 340.1L569.1 340.7L569.5 341.3L569.7 341.8L570.0 342.4L570.1 343.0L570.1 343.6L570.1 344.3L570.0 345.0L569.9 345.7L569.7 346.4L569.6 347.0L569.5 347.6L569.3 348.1L569.1 348.6L568.9 349.0L568.7 349.5L568.6 350.0L568.5 350.6L568.5 351.3L568.4 352.1L568.4 352.7L568.4 353.0L568.3 353.0L568.2 352.5L568.1 351.7L567.9 350.6L567.8 349.3L567.7 348.1L567.6 347.0L567.6 346.0L567.7 345.0L567.8 344.0L567.9 343.0L568.0 342.0L568.0 341.0L568.0 339.9L567.8 338.5L567.7 337.2L567.6 336.1L567.5 335.2L567.5 334.8Z" fill="none" stroke="#000" stroke-width="1.35" stroke-linejoin="round" stroke-linecap="butt"/>
<path d="M852.2 8.3L852.3 9.7" fill="none" stroke="#000" stroke-width="1.35" stroke-linejoin="round" stroke-linecap="butt"/>
<path d="M565.0 370.8L724.6 210.6" fill="none" stroke="#000" stroke-width="1.35" stroke-linejoin="round" stroke-linecap="butt"/>
<path d="M736.0 199.5L932.7 3.7" fill="none" stroke="#000" stroke-width="1.35" stroke-linejoin="round" stroke-linecap="butt"/>
<path d="M903.2 8.3L907.2 9.7" fill="none" stroke="#000" stroke-width="1.35" stroke-linejoin="round" stroke-linecap="butt"/>
<path d="M579.4 8.5L579.5 15.0" fill="none" stroke="#000" stroke-width="1.35" stroke-linejoin="round" stroke-linecap="butt"/>
<path d="M579.8 24.6L579.7 29.0L579.2 33.3" fill="none" stroke="#000" stroke-width="1.35" stroke-linejoin="round" stroke-linecap="butt"/>
<path d="M576.2 42.5L574.0 46.3L571.0 50.6" fill="none" stroke="#000" stroke-width="1.35" stroke-linejoin="round" stroke-linecap="butt"/>
<path d="M659.4 8.5L659.4 11.2L659.4 13.9L659.4 16.7L659.4 17.7M658.9 27.8L659.3 30.9L660.4 34.1L661.3 36.2L661.6 36.7M667.1 45.3L668.6 47.1L670.1 48.7L671.7 50.2L673.6 51.6M682.9 56.0L685.1 56.9L687.2 57.6L689.2 58.2L691.4 58.8M701.4 60.3L703.6 60.3L705.7 60.1L707.8 59.7L710.1 59.3L710.5 59.2M720.3 56.0L722.6 55.2L724.8 54.3L727.0 53.3L728.8 52.4M747.2 31.5L747.7 27.8L747.8 25.7L747.9 23.6L747.9 21.9M747.9 12.1L747.8 9.6L747.8 8.5" fill="none" stroke="#000" stroke-width="1.35" stroke-linejoin="round" stroke-linecap="butt"/>
<path d="M640.1 8.5L640.1 11.1L640.1 13.7L640.1 16.5L640.1 18.0M640.1 27.8L640.3 30.8L640.9 34.0L641.5 36.2L641.8 37.3M645.7 46.3L647.0 48.3L648.4 50.1L649.8 51.8L651.3 53.6M657.5 61.2L659.4 63.0L661.3 64.6L663.2 66.1L664.7 67.3M673.0 73.1L675.1 74.2L677.2 75.3L679.4 76.3L681.2 77.1M690.7 80.2L692.9 80.7L695.1 81.1L697.2 81.4L699.3 81.6L699.8 81.7M728.0 74.3L730.1 73.2L732.1 72.0L734.1 70.8L736.1 69.4M743.7 63.5L745.7 61.9L747.6 60.3L749.5 58.7L751.0 57.4M758.5 50.9L760.0 49.3L761.5 47.7L763.0 46.0L764.3 44.1L764.6 43.7M769.0 34.8L769.7 32.6L770.3 30.3L770.8 28.0L771.2 25.7M771.8 15.5L771.9 12.8L771.9 10.3L771.9 8.5" fill="none" stroke="#000" stroke-width="1.35" stroke-linejoin="round" stroke-linecap="butt"/>
<path d="M627.5 8.5L627.5 11.1L627.5 13.7L627.5 16.5L627.5 18.0M627.9 27.8L628.3 30.3L629.0 33.7L629.4 35.9L629.5 36.9M631.0 46.9L632.0 49.2L633.2 51.4L634.6 53.4L635.6 55.1M640.7 63.5L642.1 65.3L643.5 67.0L645.0 68.7L646.5 70.4L646.8 70.8M653.2 78.2L655.0 79.7L656.9 81.1L658.6 82.4L660.5 83.7M668.7 89.9L670.4 91.3L672.2 92.5L674.0 93.6L675.9 94.7L676.3 94.9M685.7 99.1L687.7 99.7L689.9 100.3L692.0 100.9L694.2 101.3L694.6 101.4M704.5 102.0L706.6 101.9L708.7 101.8L710.8 101.5L713.0 101.1L713.8 100.9M723.3 97.8L725.5 96.9L727.7 95.9L729.8 94.8L731.6 93.9M739.9 88.5L742.1 86.8L744.3 85.1L746.6 83.4L747.5 82.7M755.2 76.5L757.3 74.8L759.3 73.0L761.3 71.3L762.4 70.3M769.5 63.6L771.2 62.0L772.8 60.5L774.4 58.9L776.0 57.3L776.3 56.9M783.0 49.6L784.5 47.8L785.8 45.9L787.1 44.0L788.3 42.0M792.1 33.1L792.6 30.8L792.9 28.6L793.2 26.4L793.4 24.3L793.4 23.9M793.0 13.6L792.8 11.2L792.6 8.5" fill="none" stroke="#000" stroke-width="1.35" stroke-linejoin="round" stroke-linecap="butt"/>
<path d="M618.8 8.5L618.8 11.1L618.8 13.7L618.8 16.5L618.8 18.0M619.3 27.8L619.5 30.3L619.8 33.8L620.0 36.0L620.1 37.0M621.5 47.4L622.4 49.6L623.4 51.7L624.4 53.7L625.2 55.5M628.2 65.1L629.3 67.4L630.7 69.6L632.1 71.8L632.9 73.0M638.5 81.6L639.9 83.2L641.3 84.8L642.9 86.3L644.4 88.0L644.7 88.4M651.1 96.3L652.9 97.9L654.6 99.3L656.4 100.7L658.1 102.2M665.1 109.1L666.8 110.6L668.7 111.9L670.6 113.2L672.6 114.4M681.8 118.5L684.0 119.2L686.1 119.7L688.2 120.2L690.3 120.6L690.7 120.7M700.8 121.7L703.2 121.6L705.7 121.4L708.0 121.1L710.3 120.7M719.7 118.1L721.8 117.3L724.0 116.5L726.3 115.4L728.1 114.5M751.5 96.7L753.1 95.2L754.7 93.8L756.9 92.0L758.5 90.7M766.7 84.5L768.4 83.3L770.1 82.0L771.9 80.7L773.6 79.3L774.0 79.0M781.5 72.6L783.1 71.2L784.8 69.6L786.4 68.1L788.0 66.6L788.3 66.3M795.4 59.0L796.9 57.4L798.4 55.7L799.8 54.1L801.2 52.4L801.4 52.1M807.2 43.5L808.2 41.5L809.1 39.4L810.0 37.2L810.7 35.0M812.4 25.2L812.5 22.8L812.6 20.5L812.6 18.3L812.5 16.1" fill="none" stroke="#000" stroke-width="1.35" stroke-linejoin="round" stroke-linecap="butt"/>
<path d="M612.9 8.5L612.9 11.1L612.9 13.7L612.9 16.5L612.9 18.0M613.0 27.8L613.1 30.3L613.4 33.8L613.6 36.0L613.7 37.0M614.6 47.4L615.3 49.6L616.2 51.7L617.1 53.7L617.8 56.0M619.8 65.6L620.7 67.8L621.9 70.0L623.0 72.1L623.9 73.8M627.5 83.6L628.6 85.5L629.9 87.3L631.1 89.1L632.3 91.1M637.2 100.2L638.6 102.0L640.1 103.7L641.6 105.3L643.1 107.1M649.6 114.5L651.4 116.2L653.3 117.7L655.2 119.3L656.7 120.6M663.6 128.1L665.4 129.6L667.2 130.9L669.1 132.2L671.1 133.4M680.2 137.5L682.5 138.4L684.6 139.1L686.7 139.7L688.9 140.2M698.9 141.5L701.3 141.5L703.8 141.4L706.2 141.2L708.0 141.0M717.9 138.2L720.0 137.5L722.1 136.7L724.1 135.9L726.1 135.0L726.5 134.8M735.4 130.0L737.2 128.9L739.1 127.7L740.9 126.5L742.8 125.3L743.1 125.0M751.6 118.7L753.2 117.4L754.8 116.0L756.5 114.5L758.2 113.0M765.3 106.0L766.9 104.3L768.6 102.6L770.3 100.8L771.9 99.2M779.0 92.0L780.5 90.5L782.5 88.6L784.5 86.8L785.7 85.8M793.5 79.4L795.2 78.0L796.9 76.6L798.6 75.1L800.2 73.6L800.6 73.3M807.7 66.7L809.3 65.1L810.9 63.4L812.5 61.8L814.1 60.1M820.9 52.5L822.4 50.6L823.7 48.8L825.1 46.8L826.3 44.8M830.4 35.7L831.1 33.4L831.7 31.0L832.1 28.7L832.4 26.8M832.6 16.6L832.5 14.2L832.4 11.8L832.2 9.0L832.2 8.5" fill="none" stroke="#000" stroke-width="1.35" stroke-linejoin="round" stroke-linecap="butt"/>
<path d="M607.5 8.5L607.5 11.1L607.5 13.7L607.5 16.5L607.5 18.0M607.8 27.8L607.9 30.3L608.0 33.8L608.2 36.0L608.3 37.0M609.8 47.4L610.3 49.6L610.9 51.7L611.4 53.7L611.9 56.0M613.5 66.1L614.3 68.2L615.1 70.3L616.0 72.4L616.7 74.7M619.0 84.7L619.9 86.8L621.1 88.7L622.2 90.6L623.2 92.8M626.4 102.3L627.5 104.3L628.7 106.0L630.0 107.8L631.3 109.8M636.4 118.5L637.8 120.4L639.3 122.0L640.8 123.7L642.3 125.4L642.6 125.8M648.7 133.4L650.4 135.0L652.2 136.4L653.9 137.8L655.6 139.2L655.9 139.5M663.2 146.6L665.0 147.9L666.9 149.2L669.0 150.5L670.8 151.6M679.5 156.3L681.6 157.4L683.7 158.3L685.8 159.1L688.0 159.8M698.2 161.7L700.7 161.8L703.1 161.8L705.5 161.7L707.3 161.5M717.1 159.3L719.2 158.6L721.3 157.8L723.4 157.0L725.5 156.1L725.9 155.9M734.8 151.3L736.8 150.1L739.0 148.8L741.3 147.3M764.7 127.1L766.3 125.6L767.9 124.0L769.5 122.4L771.1 120.8M778.3 113.5L780.0 111.8L781.7 110.1L783.4 108.4L784.7 107.0M791.8 100.0L793.3 98.5L794.9 97.1L796.4 95.7L798.1 94.1L798.5 93.7M806.3 86.9L808.2 85.3L810.1 83.7L811.7 82.3L813.4 80.8M820.5 74.2L822.2 72.6L823.9 71.0L825.6 69.4L827.3 67.8M834.2 60.8L835.7 59.1L837.1 57.5L838.5 55.8L839.9 54.2L840.4 53.5M846.2 45.2L847.3 43.2L848.4 41.2L849.4 39.2L850.2 37.1M852.4 27.4L852.6 24.9L852.6 22.5L852.6 19.9L852.7 17.9" fill="none" stroke="#000" stroke-width="1.35" stroke-linejoin="round" stroke-linecap="butt"/>
<path d="M602.7 8.5L602.7 11.1L602.7 13.7L602.7 16.5L602.7 18.0M603.0 27.8L603.0 30.3L603.1 33.8L603.3 36.0L603.4 37.0M605.0 47.4L605.4 49.6L605.8 51.7L606.2 53.7L606.6 56.0L606.7 56.5M608.2 66.1L608.8 68.2L609.5 70.3L610.2 72.4L610.8 74.7L610.9 75.2M612.5 84.7L613.3 86.8L614.1 88.6L615.0 90.6L615.7 92.8L615.9 93.3M618.4 103.5L619.3 105.5L620.2 107.4L621.2 109.3L622.2 111.5M625.9 121.0L627.0 122.9L628.2 124.6L629.5 126.4L630.8 128.4L631.0 128.9M635.9 137.6L637.3 139.5L638.8 141.2L640.2 142.8L641.7 144.6M647.6 152.6L649.2 154.2L650.8 155.6L652.4 157.0L654.0 158.5L654.6 159.1M661.3 166.3L662.9 167.9L664.4 169.5L666.1 171.2L668.0 172.8M676.2 178.7L678.3 179.9L680.4 180.9L682.6 181.9L684.4 182.6M694.0 185.3L696.4 185.5L698.9 185.5L701.3 185.4L703.2 185.2M713.0 182.7L715.2 181.9L717.4 181.2L719.6 180.3L721.8 179.4M730.8 174.7L732.8 173.5L734.7 172.3L736.6 171.0L738.5 169.8M746.4 163.8L748.3 162.3L750.3 160.7L752.5 158.8L753.5 158.0M761.4 151.3L763.3 149.8L765.1 148.2L767.0 146.5L768.2 145.6M775.8 138.8L777.8 137.0L779.9 135.1L781.8 133.3L782.5 132.6M790.2 125.5L791.9 123.9L793.6 122.2L795.4 120.6L796.8 119.2M803.7 112.3L805.4 110.6L807.2 108.9L808.9 107.3L810.6 105.6M817.9 98.6L819.7 96.8L821.4 95.0L823.1 93.2L824.2 92.1M831.1 84.9L832.9 83.1L834.6 81.4L836.4 79.7L837.7 78.3M844.7 71.0L846.4 69.2L847.9 67.4L849.5 65.6L850.8 64.1M857.0 56.5L858.5 54.7L860.0 52.9L861.5 51.0L862.9 49.2M868.7 40.9L869.8 39.0L870.8 37.0L871.8 34.9L872.5 32.8L872.7 32.4M874.5 22.8L874.5 20.5L874.6 18.3L874.6 16.2L874.5 14.1L874.5 13.2" fill="none" stroke="#000" stroke-width="1.35" stroke-linejoin="round" stroke-linecap="butt"/>
<ellipse cx="599.5" cy="233.1" rx="2.25" ry="21.2" fill="none" stroke="#000" stroke-width="1.25"/>
<circle cx="583" cy="350.3" r="1.0" fill="none" stroke="#000" stroke-width="0.9"/>
<path d="M909.8 9.4L924.5 8.4L925.4 9.6L921.5 11.3L909.8 10.2Z" fill="#222"/>
<path d="M916 12.6L922 12.9L919 14.7Z" fill="none" stroke="#000" stroke-width="0.8"/>
<path d="M118.3 40L120.3 40L121.2 60L121.9 80L123.5 105L124.8 125L125.5 160L125.5 250L125 285L123 310L120.5 328L119 328L118.3 300Z" fill="#000" fill-opacity="0.28"/>
<circle cx="89.2" cy="9.5" r="0.8" fill="#000"/>
<g transform="translate(105.9 55.4) rotate(0)"><text x="0" y="8.4" font-size="25" text-anchor="middle" style="font-family:'Liberation Serif','Times New Roman',serif">1</text></g>
<g transform="translate(106.2 107.4) rotate(0)"><text x="0" y="8.4" font-size="25" text-anchor="middle" style="font-family:'Liberation Serif','Times New Roman',serif">3</text></g>
<g transform="translate(106.3 149.9) rotate(0)"><text x="0" y="8.4" font-size="25" text-anchor="middle" style="font-family:'Liberation Serif','Times New Roman',serif">5</text></g>
<g transform="translate(106.2 192.3) rotate(0)"><text x="0" y="8.4" font-size="25" text-anchor="middle" style="font-family:'Liberation Serif','Times New Roman',serif">7</text></g>
<g transform="translate(105.7 243.8) rotate(0)"><text x="0" y="8.4" font-size="25" text-anchor="middle" style="font-family:'Liberation Serif','Times New Roman',serif">9</text></g>
<g transform="translate(153.8 272.4) rotate(-90)"><text x="0" y="8.4" font-size="25" text-anchor="middle" style="font-family:'Liberation Serif','Times New Roman',serif">1</text></g>
<g transform="translate(251.5 204.0) rotate(-16)"><text x="0" y="8.4" font-size="25" text-anchor="middle" style="font-family:'Liberation Serif','Times New Roman',serif">0</text></g>
<g transform="translate(203.0 26.5) rotate(-27)"><text x="0" y="8.4" font-size="25" text-anchor="middle" style="font-family:'Liberation Serif','Times New Roman',serif">9</text><text x="-13.3" y="10.1" font-size="25" text-anchor="middle" style="font-family:'Liberation Serif','Times New Roman',serif">−</text></g>
<g transform="translate(256.3 33.5) rotate(-58)"><text x="0" y="8.4" font-size="25" text-anchor="middle" style="font-family:'Liberation Serif','Times New Roman',serif">7</text><text x="-13.3" y="10.1" font-size="25" text-anchor="middle" style="font-family:'Liberation Serif','Times New Roman',serif">−</text></g>
<g transform="translate(268.0 77.0) rotate(-30)"><text x="0" y="8.4" font-size="25" text-anchor="middle" style="font-family:'Liberation Serif','Times New Roman',serif">5</text><text x="-13.3" y="10.1" font-size="25" text-anchor="middle" style="font-family:'Liberation Serif','Times New Roman',serif">−</text></g>
<g transform="translate(292.0 99.5) rotate(-30)"><text x="0" y="8.4" font-size="25" text-anchor="middle" style="font-family:'Liberation Serif','Times New Roman',serif">3</text><text x="-13.3" y="10.1" font-size="25" text-anchor="middle" style="font-family:'Liberation Serif','Times New Roman',serif">−</text></g>
<g transform="translate(300.5 132.6) rotate(-30)"><text x="0" y="8.4" font-size="25" text-anchor="middle" style="font-family:'Liberation Serif','Times New Roman',serif">1</text><text x="-13.3" y="10.1" font-size="25" text-anchor="middle" style="font-family:'Liberation Serif','Times New Roman',serif">−</text></g>
<g transform="translate(586.2 79.5) rotate(0)"><text x="0" y="8.4" font-size="25" text-anchor="middle" style="font-family:'Liberation Serif','Times New Roman',serif">1</text></g>
<g transform="translate(586.3 123.0) rotate(0)"><text x="0" y="8.4" font-size="25" text-anchor="middle" style="font-family:'Liberation Serif','Times New Roman',serif">3</text></g>
<g transform="translate(586.4 166.2) rotate(0)"><text x="0" y="8.4" font-size="25" text-anchor="middle" style="font-family:'Liberation Serif','Times New Roman',serif">5</text></g>
<g transform="translate(586.2 209.1) rotate(0)"><text x="0" y="8.4" font-size="25" text-anchor="middle" style="font-family:'Liberation Serif','Times New Roman',serif">7</text></g>
<g transform="translate(637.8 231.3) rotate(-80)"><text x="0" y="8.4" font-size="25" text-anchor="middle" style="font-family:'Liberation Serif','Times New Roman',serif">2</text></g>
<g transform="translate(730.2 204.7) rotate(-16)"><text x="0" y="8.4" font-size="25" text-anchor="middle" style="font-family:'Liberation Serif','Times New Roman',serif">0</text></g>
<g transform="translate(745.5 43.0) rotate(-36)"><text x="0" y="8.4" font-size="25" text-anchor="middle" style="font-family:'Liberation Serif','Times New Roman',serif">7</text><text x="-13.3" y="10.1" font-size="25" text-anchor="middle" style="font-family:'Liberation Serif','Times New Roman',serif">−</text></g>
<g transform="translate(718.2 78.2) rotate(-20)"><text x="0" y="8.4" font-size="25" text-anchor="middle" style="font-family:'Liberation Serif','Times New Roman',serif">6</text><text x="-13.3" y="10.1" font-size="25" text-anchor="middle" style="font-family:'Liberation Serif','Times New Roman',serif">−</text></g>
<g transform="translate(743.8 107.0) rotate(-33)"><text x="0" y="8.4" font-size="25" text-anchor="middle" style="font-family:'Liberation Serif','Times New Roman',serif">4</text><text x="-13.3" y="10.1" font-size="25" text-anchor="middle" style="font-family:'Liberation Serif','Times New Roman',serif">−</text></g>
<g transform="translate(756.6 140.1) rotate(-35)"><text x="0" y="8.4" font-size="25" text-anchor="middle" style="font-family:'Liberation Serif','Times New Roman',serif">2</text><text x="-13.3" y="10.1" font-size="25" text-anchor="middle" style="font-family:'Liberation Serif','Times New Roman',serif">−</text></g>
<text x="74.2" y="329.1" font-size="25" text-anchor="end" style="font-family:'Liberation Serif','Times New Roman',serif;" >10</text>
<text x="74.2" y="275.8" font-size="25" text-anchor="end" style="font-family:'Liberation Serif','Times New Roman',serif;" >15</text>
<text x="74.2" y="222.6" font-size="25" text-anchor="end" style="font-family:'Liberation Serif','Times New Roman',serif;" >20</text>
<text x="74.2" y="169.3" font-size="25" text-anchor="end" style="font-family:'Liberation Serif','Times New Roman',serif;" >25</text>
<text x="74.2" y="116.1" font-size="25" text-anchor="end" style="font-family:'Liberation Serif','Times New Roman',serif;" >30</text>
<text x="74.2" y="62.8" font-size="25" text-anchor="end" style="font-family:'Liberation Serif','Times New Roman',serif;" >35</text>
<text x="137.3" y="398.6" font-size="25" text-anchor="middle" style="font-family:'Liberation Serif','Times New Roman',serif;" >10</text>
<text x="190.4" y="398.6" font-size="25" text-anchor="middle" style="font-family:'Liberation Serif','Times New Roman',serif;" >15</text>
<text x="243.4" y="398.6" font-size="25" text-anchor="middle" style="font-family:'Liberation Serif','Times New Roman',serif;" >20</text>
<text x="296.4" y="398.6" font-size="25" text-anchor="middle" style="font-family:'Liberation Serif','Times New Roman',serif;" >25</text>
<text x="349.5" y="398.6" font-size="25" text-anchor="middle" style="font-family:'Liberation Serif','Times New Roman',serif;" >30</text>
<text x="402.6" y="398.6" font-size="25" text-anchor="middle" style="font-family:'Liberation Serif','Times New Roman',serif;" >35</text>
<text x="67.9" y="398.6" font-size="25" text-anchor="middle" style="font-family:'Liberation Serif','Times New Roman',serif;" >5</text>
<text x="218.3" y="436.2" font-size="29.5" text-anchor="start" style="font-family:'Liberation Serif','Times New Roman',serif;font-style:italic" >x</text>
<text x="233.0" y="440.4" font-size="20.5" text-anchor="start" style="font-family:'Liberation Serif','Times New Roman',serif;" >0</text>
<text x="251.6" y="436.2" font-size="29.5" text-anchor="start" style="font-family:'Liberation Serif','Times New Roman',serif;" >(</text>
<text x="262.8" y="436.2" font-size="29.5" text-anchor="start" style="font-family:'Liberation Serif','Times New Roman',serif;" >mm</text>
<text x="308.0" y="436.2" font-size="29.5" text-anchor="start" style="font-family:'Liberation Serif','Times New Roman',serif;" >)</text>
<text x="554.5" y="329.1" font-size="25" text-anchor="end" style="font-family:'Liberation Serif','Times New Roman',serif;" >10</text>
<text x="554.5" y="275.8" font-size="25" text-anchor="end" style="font-family:'Liberation Serif','Times New Roman',serif;" >15</text>
<text x="554.5" y="222.6" font-size="25" text-anchor="end" style="font-family:'Liberation Serif','Times New Roman',serif;" >20</text>
<text x="554.5" y="169.3" font-size="25" text-anchor="end" style="font-family:'Liberation Serif','Times New Roman',serif;" >25</text>
<text x="554.5" y="116.1" font-size="25" text-anchor="end" style="font-family:'Liberation Serif','Times New Roman',serif;" >30</text>
<text x="554.5" y="62.8" font-size="25" text-anchor="end" style="font-family:'Liberation Serif','Times New Roman',serif;" >35</text>
<text x="617.6" y="398.6" font-size="25" text-anchor="middle" style="font-family:'Liberation Serif','Times New Roman',serif;" >10</text>
<text x="670.6" y="398.6" font-size="25" text-anchor="middle" style="font-family:'Liberation Serif','Times New Roman',serif;" >15</text>
<text x="723.7" y="398.6" font-size="25" text-anchor="middle" style="font-family:'Liberation Serif','Times New Roman',serif;" >20</text>
<text x="776.8" y="398.6" font-size="25" text-anchor="middle" style="font-family:'Liberation Serif','Times New Roman',serif;" >25</text>
<text x="829.8" y="398.6" font-size="25" text-anchor="middle" style="font-family:'Liberation Serif','Times New Roman',serif;" >30</text>
<text x="882.9" y="398.6" font-size="25" text-anchor="middle" style="font-family:'Liberation Serif','Times New Roman',serif;" >35</text>
<text x="548.2" y="398.6" font-size="25" text-anchor="middle" style="font-family:'Liberation Serif','Times New Roman',serif;" >5</text>
<text x="703.5" y="436.2" font-size="29.5" text-anchor="start" style="font-family:'Liberation Serif','Times New Roman',serif;font-style:italic" >x</text>
<text x="718.2" y="440.4" font-size="20.5" text-anchor="start" style="font-family:'Liberation Serif','Times New Roman',serif;" >0</text>
<text x="736.8" y="436.2" font-size="29.5" text-anchor="start" style="font-family:'Liberation Serif','Times New Roman',serif;" >(</text>
<text x="748.0" y="436.2" font-size="29.5" text-anchor="start" style="font-family:'Liberation Serif','Times New Roman',serif;" >mm</text>
<text x="793.2" y="436.2" font-size="29.5" text-anchor="start" style="font-family:'Liberation Serif','Times New Roman',serif;" >)</text>
<g transform="translate(26.3 0) rotate(-90)">
<text x="-250.0" y="0.0" font-size="29.5" style="font-family:'Liberation Serif','Times New Roman',serif;font-style:italic">x</text>
<text x="-237.2" y="4.2" font-size="20.5" style="font-family:'Liberation Serif','Times New Roman',serif;">1</text>
<text x="-218.6" y="0.0" font-size="29.5" style="font-family:'Liberation Serif','Times New Roman',serif;">(</text>
<text x="-208.0" y="0.0" font-size="29.5" style="font-family:'Liberation Serif','Times New Roman',serif;">mm</text>
<text x="-162.8" y="0.0" font-size="29.5" style="font-family:'Liberation Serif','Times New Roman',serif;">)</text>
</g>
<text x="0.6" y="24.9" font-size="30" text-anchor="start" style="font-family:'Liberation Serif','Times New Roman',serif;" >(</text>
<text x="10.6" y="24.9" font-size="30" text-anchor="start" style="font-family:'Liberation Serif','Times New Roman',serif;font-style:italic" >a</text>
<text x="25.9" y="24.9" font-size="30" text-anchor="start" style="font-family:'Liberation Serif','Times New Roman',serif;" >)</text>
<text x="482.1" y="24.9" font-size="30" text-anchor="start" style="font-family:'Liberation Serif','Times New Roman',serif;" >(</text>
<text x="492.6" y="24.9" font-size="30" text-anchor="start" style="font-family:'Liberation Serif','Times New Roman',serif;font-style:italic" >b</text>
<text x="508.2" y="24.9" font-size="30" text-anchor="start" style="font-family:'Liberation Serif','Times New Roman',serif;" >)</text>
</svg>
</body></html>
